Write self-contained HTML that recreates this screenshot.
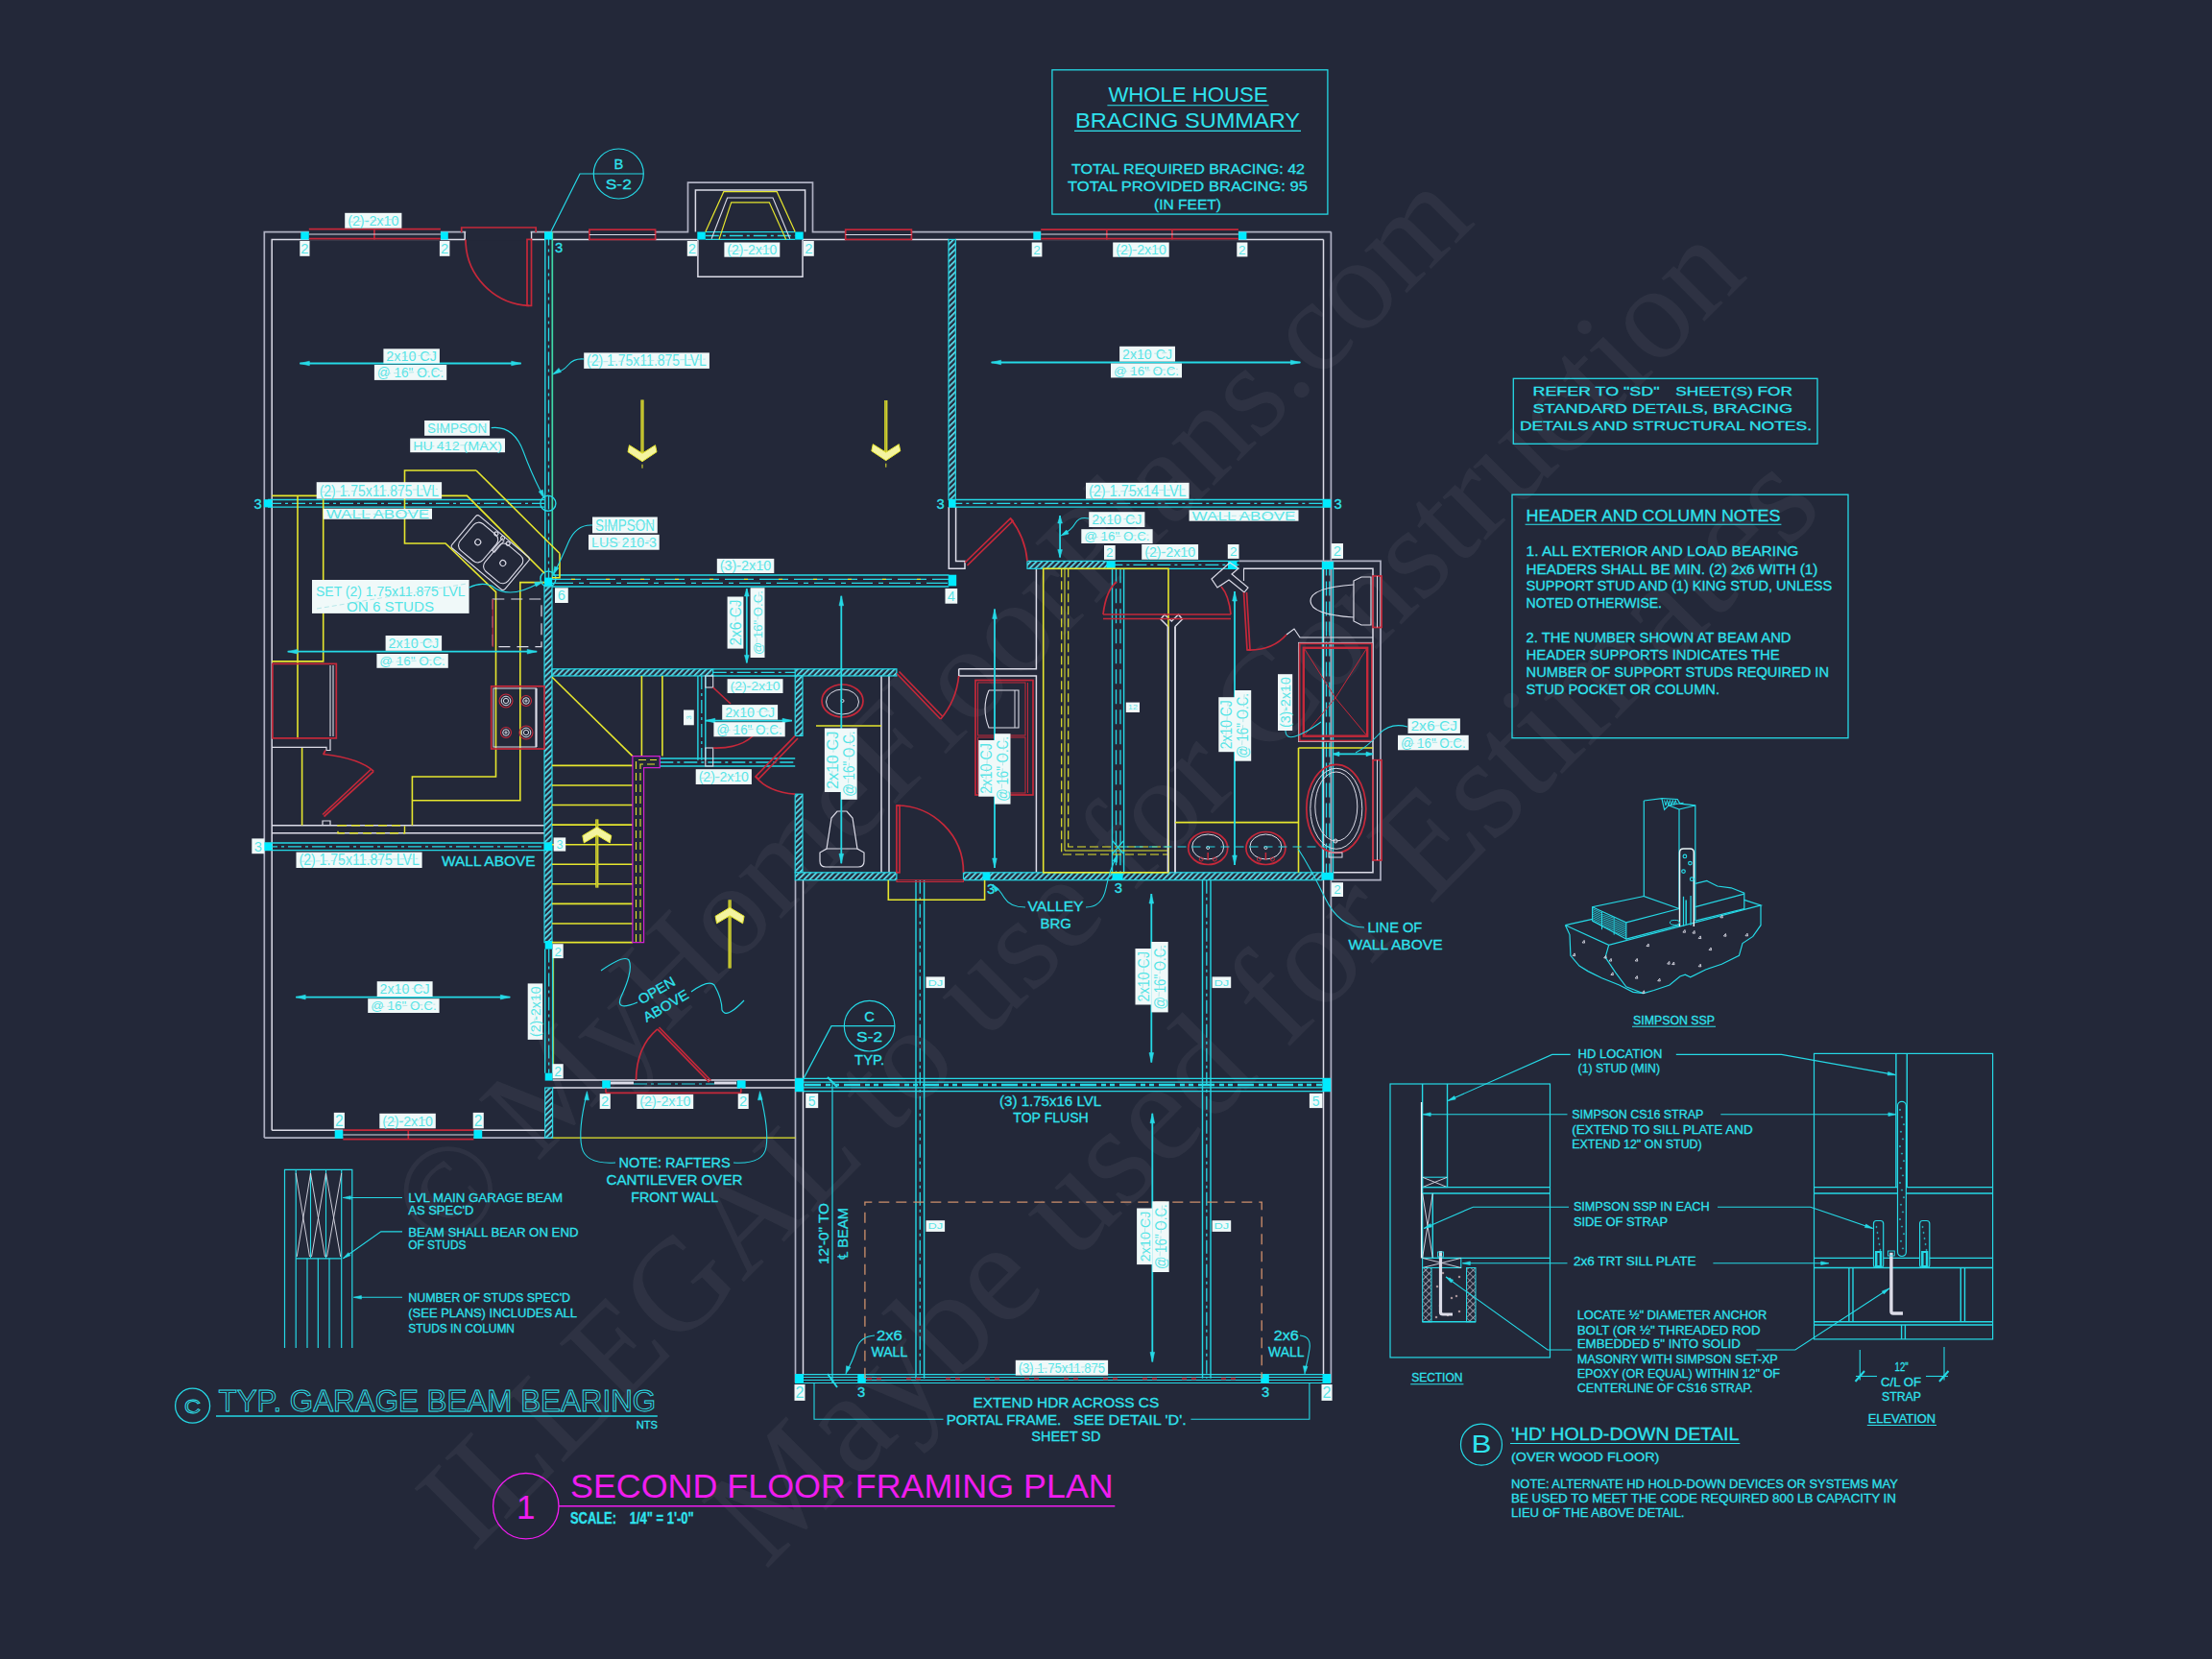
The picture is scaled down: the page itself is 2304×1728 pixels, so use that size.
<!DOCTYPE html>
<html><head><meta charset="utf-8"><title>Second Floor Framing Plan</title>
<style>
html,body{margin:0;padding:0;background:#232839;}
svg{display:block;}
text{font-family:"Liberation Sans",sans-serif;}
.wm text{font-family:"Liberation Serif",serif;fill:#ffffff;fill-opacity:0.052;}
</style></head>
<body>
<svg width="2304" height="1728" viewBox="0 0 2304 1728">
<defs>
<pattern id="hat" width="4.2" height="4.2" patternUnits="userSpaceOnUse" patternTransform="rotate(-45)"><rect width="4.2" height="4.2" fill="#232839"/><line x1="0" y1="1" x2="4.2" y2="1" stroke="#58d6e6" stroke-width="1.9"/></pattern>
<pattern id="xhat" width="5" height="5" patternUnits="userSpaceOnUse" patternTransform="rotate(45)"><path d="M0 0H5M0 0V5" stroke="#dcdce8" stroke-width="1.2" fill="none"/></pattern>
</defs>
<rect width="2304" height="1728" fill="#232839"/>
<g class="wm">
<text x="0" y="0" font-size="136.6" transform="translate(461.7 1308.8) rotate(-45)">© MyHomeFloorPlans.com</text>
<text x="0" y="0" font-size="138" transform="translate(492 1618) rotate(-45)">ILLEGAL to use for Construction</text>
<text x="0" y="0" font-size="150" transform="translate(797 1636) rotate(-45)">Maybe used for Estimates</text>
</g>
<polyline points="275.3,1185.1 275.3,241.6 716.5,241.6 716.5,190.2 846.5,190.2 846.5,241.6 1386.4,241.6" fill="none" stroke="#aeb0c2" stroke-width="1.7"/>
<polyline points="283.2,1177.2 283.2,249.4 484.2,249.4 484.2,241.6" fill="none" stroke="#dcdce8" stroke-width="1.5"/>
<polyline points="553.5,241.6 553.5,249.4 567,249.4" fill="none" stroke="#dcdce8" stroke-width="1.5"/>
<line x1="575" y1="249.4" x2="726.9" y2="249.4" stroke="#dcdce8" stroke-width="1.5"/>
<polyline points="724.4,241.6 724.4,198.1 838.6,198.1 838.6,241.6" fill="none" stroke="#dcdce8" stroke-width="1.5"/>
<line x1="836" y1="249.4" x2="988" y2="249.4" stroke="#dcdce8" stroke-width="1.5"/>
<line x1="995.3" y1="249.4" x2="1378.5" y2="249.4" stroke="#dcdce8" stroke-width="1.5"/>
<polyline points="726.9,249.4 726.9,288.3 836,288.3 836,249.4" fill="none" stroke="#dcdce8" stroke-width="1.5"/>
<line x1="1386.4" y1="241.6" x2="1386.4" y2="1440.5" stroke="#aeb0c2" stroke-width="1.7"/>
<line x1="1378.5" y1="249.4" x2="1378.5" y2="1431.6" stroke="#dcdce8" stroke-width="1.5"/>
<polyline points="275.3,1185.1 575.6,1185.1" fill="none" stroke="#aeb0c2" stroke-width="1.7"/>
<polyline points="283.2,1177.2 567.7,1177.2" fill="none" stroke="#dcdce8" stroke-width="1.5"/>
<line x1="283.2" y1="859.7" x2="567" y2="859.7" stroke="#dcdce8" stroke-width="1.5"/>
<line x1="283.2" y1="867.7" x2="567" y2="867.7" stroke="#dcdce8" stroke-width="1.5"/>
<line x1="575.6" y1="1125" x2="828.8" y2="1125" stroke="#dcdce8" stroke-width="1.5"/>
<line x1="575.6" y1="1133" x2="828.8" y2="1133" stroke="#dcdce8" stroke-width="1.5"/>
<line x1="828.5" y1="916.7" x2="828.5" y2="1440.5" stroke="#aeb0c2" stroke-width="1.7"/>
<line x1="836.5" y1="916.7" x2="836.5" y2="1431.6" stroke="#dcdce8" stroke-width="1.5"/>
<polyline points="988.3,528.1 988.3,592.3 1005,592.3 1005,584.4 995.6,584.4 995.6,528.1" fill="none" stroke="#dcdce8" stroke-width="1.5"/>
<polyline points="1290.5,584.4 1438,584.4 1438,916.7 1386.4,916.7" fill="none" stroke="#aeb0c2" stroke-width="1.7"/>
<polyline points="1295,592.3 1430,592.3 1430,908.8 1388,908.8" fill="none" stroke="#dcdce8" stroke-width="1.5"/>
<polyline points="998.7,696.8 1079.4,696.8 1079.4,592.3" fill="none" stroke="#dcdce8" stroke-width="1.5"/>
<polyline points="998.7,696.8 998.7,704 1079.4,704 1079.4,908.8" fill="none" stroke="#dcdce8" stroke-width="1.5"/>
<line x1="918" y1="704" x2="918" y2="908.8" stroke="#dcdce8" stroke-width="1.5"/>
<line x1="926" y1="704" x2="926" y2="908.8" stroke="#dcdce8" stroke-width="1.5"/>
<line x1="1216.5" y1="652.5" x2="1216.5" y2="908.8" stroke="#dcdce8" stroke-width="1.5"/>
<line x1="1224" y1="652.5" x2="1224" y2="908.8" stroke="#dcdce8" stroke-width="1.5"/>
<polyline points="1216.5,652.5 1209,645 1213,640 1220.3,647 1227.5,640 1231.5,645 1224,652.5" fill="none" stroke="#dcdce8" stroke-width="1.5"/>
<rect x="988" y="249.4" width="7.3" height="271.2" fill="url(#hat)" stroke="#25d9e6" stroke-width="1.2"/>
<rect x="567" y="609.7" width="8" height="371.9" fill="url(#hat)" stroke="#25d9e6" stroke-width="1.2"/>
<rect x="567.7" y="1133" width="7.9" height="52.1" fill="url(#hat)" stroke="#25d9e6" stroke-width="1.2"/>
<rect x="575" y="696.8" width="167.7" height="7.2" fill="url(#hat)" stroke="#25d9e6" stroke-width="1.2"/>
<rect x="828.2" y="696.8" width="105.7" height="7.2" fill="url(#hat)" stroke="#25d9e6" stroke-width="1.2"/>
<rect x="828.2" y="704" width="7.8" height="62.4" fill="url(#hat)" stroke="#25d9e6" stroke-width="1.2"/>
<rect x="828.2" y="827.2" width="7.8" height="81.6" fill="url(#hat)" stroke="#25d9e6" stroke-width="1.2"/>
<rect x="828.2" y="908.8" width="105.7" height="7.9" fill="url(#hat)" stroke="#25d9e6" stroke-width="1.2"/>
<rect x="1003.5" y="908.8" width="373.5" height="7.9" fill="url(#hat)" stroke="#25d9e6" stroke-width="1.2"/>
<rect x="1070" y="584.4" width="85.4" height="7.9" fill="url(#hat)" stroke="#25d9e6" stroke-width="1.2"/>
<line x1="279" y1="520.5" x2="567" y2="520.5" stroke="#25d9e6" stroke-width="1.3"/>
<line x1="279" y1="528.1" x2="567" y2="528.1" stroke="#25d9e6" stroke-width="1.3"/>
<line x1="279" y1="524.3" x2="567" y2="524.3" stroke="#25d9e6" stroke-width="1.3" stroke-dasharray="14 4 3 4"/>
<rect x="275" y="520.2" width="8.4" height="8.2" fill="#00eaff"/>
<line x1="567.8" y1="241.6" x2="567.8" y2="603" stroke="#25d9e6" stroke-width="1.4"/>
<line x1="575.3" y1="241.6" x2="575.3" y2="603" stroke="#3fd8a8" stroke-width="1.7"/>
<line x1="571.5" y1="241.6" x2="571.5" y2="603" stroke="#25d9e6" stroke-width="1.3" stroke-dasharray="14 4 3 4"/>
<rect x="567" y="241.5" width="8" height="8.1" fill="#00eaff"/>
<circle cx="570.9" cy="524.3" r="8" fill="none" stroke="#25d9e6" stroke-width="1.4"/>
<circle cx="570.9" cy="603" r="8" fill="none" stroke="#25d9e6" stroke-width="1.4"/>
<line x1="575" y1="598.9" x2="988.3" y2="598.9" stroke="#25d9e6" stroke-width="1.5"/>
<line x1="575" y1="611" x2="988.3" y2="611" stroke="#25d9e6" stroke-width="1.5"/>
<line x1="575" y1="603.4" x2="988.3" y2="603.4" stroke="#25d9e6" stroke-width="1.4" stroke-dasharray="30 6"/>
<line x1="575" y1="603.4" x2="988.3" y2="603.4" stroke="#e6e62e" stroke-width="1.2" stroke-dasharray="4 32" stroke-dashoffset="-20"/>
<line x1="575" y1="607.4" x2="988.3" y2="607.4" stroke="#25d9e6" stroke-width="1.4" stroke-dasharray="22 6 5 6"/>
<rect x="567" y="601.6" width="8.2" height="8.3" fill="#00eaff"/>
<rect x="987.7" y="598.7" width="8.5" height="11.7" fill="#00eaff"/>
<line x1="988.3" y1="520.5" x2="1385.8" y2="520.5" stroke="#25d9e6" stroke-width="1.3"/>
<line x1="988.3" y1="528.1" x2="1385.8" y2="528.1" stroke="#25d9e6" stroke-width="1.3"/>
<line x1="988.3" y1="524.3" x2="1385.8" y2="524.3" stroke="#25d9e6" stroke-width="1.3" stroke-dasharray="14 4 3 4"/>
<rect x="988" y="520.2" width="7.6" height="8.2" fill="#00eaff"/>
<rect x="1377.8" y="520.2" width="8.6" height="8.2" fill="#00eaff"/>
<line x1="275" y1="878" x2="575" y2="878" stroke="#25d9e6" stroke-width="1.3"/>
<line x1="275" y1="885.7" x2="575" y2="885.7" stroke="#25d9e6" stroke-width="1.3"/>
<line x1="275" y1="881.9" x2="575" y2="881.9" stroke="#25d9e6" stroke-width="1.3" stroke-dasharray="14 4 3 4"/>
<rect x="275" y="877.8" width="8.4" height="8.2" fill="#00eaff"/>
<rect x="567" y="877.8" width="8.2" height="8.2" fill="#00eaff"/>
<line x1="742.7" y1="696.8" x2="828.2" y2="696.8" stroke="#25d9e6" stroke-width="1.3"/>
<line x1="742.7" y1="704" x2="828.2" y2="704" stroke="#25d9e6" stroke-width="1.3"/>
<line x1="742.7" y1="700.4" x2="828.2" y2="700.4" stroke="#25d9e6" stroke-width="1.3" stroke-dasharray="14 4 3 4"/>
<line x1="726.9" y1="704" x2="726.9" y2="791.7" stroke="#25d9e6" stroke-width="1.4"/>
<line x1="734.8" y1="704" x2="734.8" y2="791.7" stroke="#25d9e6" stroke-width="1.4"/>
<line x1="730.8" y1="704" x2="730.8" y2="791.7" stroke="#25d9e6" stroke-width="1.3" stroke-dasharray="14 4 3 4"/>
<line x1="687.3" y1="790" x2="828.2" y2="790" stroke="#25d9e6" stroke-width="1.3"/>
<line x1="687.3" y1="798" x2="828.2" y2="798" stroke="#25d9e6" stroke-width="1.3"/>
<line x1="687.3" y1="794" x2="828.2" y2="794" stroke="#25d9e6" stroke-width="1.3" stroke-dasharray="14 4 3 4"/>
<line x1="1155.4" y1="584.4" x2="1290.5" y2="584.4" stroke="#25d9e6" stroke-width="1.3"/>
<line x1="1155.4" y1="592.3" x2="1290.5" y2="592.3" stroke="#25d9e6" stroke-width="1.3"/>
<line x1="1155.4" y1="588.3" x2="1290.5" y2="588.3" stroke="#25d9e6" stroke-width="1.3" stroke-dasharray="14 4 3 4"/>
<line x1="1158.5" y1="592.3" x2="1158.5" y2="908.8" stroke="#25d9e6" stroke-width="1.4"/>
<line x1="1170.6" y1="592.3" x2="1170.6" y2="908.8" stroke="#25d9e6" stroke-width="1.4"/>
<line x1="1162.5" y1="592.3" x2="1162.5" y2="908.8" stroke="#25d9e6" stroke-width="1.3" stroke-dasharray="15 6"/>
<line x1="1167" y1="592.3" x2="1167" y2="908.8" stroke="#25d9e6" stroke-width="1.3" stroke-dasharray="15 6"/>
<line x1="1377.5" y1="584.4" x2="1377.5" y2="916.7" stroke="#25d9e6" stroke-width="1.4"/>
<line x1="1388.5" y1="584.4" x2="1388.5" y2="916.7" stroke="#25d9e6" stroke-width="1.4"/>
<line x1="1381.5" y1="584.4" x2="1381.5" y2="916.7" stroke="#25d9e6" stroke-width="1.3" stroke-dasharray="15 6"/>
<line x1="1384.9" y1="584.4" x2="1384.9" y2="916.7" stroke="#25d9e6" stroke-width="1.3" stroke-dasharray="15 6"/>
<rect x="1152.5" y="585" width="9.2" height="8" fill="#00eaff"/>
<rect x="1279" y="585" width="9.5" height="8" fill="#00eaff"/>
<rect x="1377" y="585" width="11" height="8" fill="#00eaff"/>
<rect x="1023.5" y="908.8" width="8" height="7.9" fill="#00eaff"/>
<rect x="1158.5" y="908.8" width="11.1" height="7.9" fill="#00eaff"/>
<rect x="1377" y="908.8" width="11" height="7.9" fill="#00eaff"/>
<line x1="954" y1="916.7" x2="954" y2="1435.8" stroke="#25d9e6" stroke-width="1.4"/>
<line x1="962.6" y1="916.7" x2="962.6" y2="1435.8" stroke="#25d9e6" stroke-width="1.4"/>
<line x1="958.3" y1="916.7" x2="958.3" y2="1435.8" stroke="#25d9e6" stroke-width="1.3" stroke-dasharray="14 4 3 4"/>
<line x1="1252.5" y1="916.7" x2="1252.5" y2="1435.8" stroke="#25d9e6" stroke-width="1.4"/>
<line x1="1261" y1="916.7" x2="1261" y2="1435.8" stroke="#25d9e6" stroke-width="1.4"/>
<line x1="1256.8" y1="916.7" x2="1256.8" y2="1435.8" stroke="#25d9e6" stroke-width="1.3" stroke-dasharray="14 4 3 4"/>
<line x1="828" y1="1123.4" x2="1386" y2="1123.4" stroke="#25d9e6" stroke-width="1.3"/>
<line x1="828" y1="1127.2" x2="1386" y2="1127.2" stroke="#25d9e6" stroke-width="1.3"/>
<line x1="828" y1="1132.9" x2="1386" y2="1132.9" stroke="#25d9e6" stroke-width="1.3"/>
<line x1="828" y1="1136.7" x2="1386" y2="1136.7" stroke="#25d9e6" stroke-width="1.3"/>
<line x1="838" y1="1130" x2="1377" y2="1130" stroke="#25d9e6" stroke-width="2.6" stroke-dasharray="17 5 5 4 5 5"/>
<rect x="828" y="1123.2" width="9" height="13.8" fill="#00eaff"/>
<rect x="1377.5" y="1123.2" width="8.7" height="13.8" fill="#00eaff"/>
<line x1="828" y1="1431.6" x2="1386" y2="1431.6" stroke="#25d9e6" stroke-width="1.1"/>
<line x1="828" y1="1434.5" x2="1386" y2="1434.5" stroke="#25d9e6" stroke-width="1.1"/>
<line x1="828" y1="1437.5" x2="1386" y2="1437.5" stroke="#25d9e6" stroke-width="1.1"/>
<line x1="828" y1="1440.5" x2="1386" y2="1440.5" stroke="#25d9e6" stroke-width="1.1"/>
<line x1="903" y1="1436" x2="1313" y2="1436" stroke="#9a1c2c" stroke-width="2.6" stroke-dasharray="5 5 5 26"/>
<rect x="828" y="1431.4" width="9" height="9.3" fill="#00eaff"/>
<rect x="893.3" y="1431.4" width="8.5" height="9.3" fill="#00eaff"/>
<rect x="1313.2" y="1431.4" width="8.6" height="9.3" fill="#00eaff"/>
<rect x="1377.5" y="1431.4" width="8.7" height="9.3" fill="#00eaff"/>
<line x1="567.7" y1="988.6" x2="567.7" y2="1117.7" stroke="#25d9e6" stroke-width="1.4"/>
<line x1="575.6" y1="988.6" x2="575.6" y2="1117.7" stroke="#25d9e6" stroke-width="1.4"/>
<line x1="571.7" y1="988.6" x2="571.7" y2="1117.7" stroke="#25d9e6" stroke-width="1.3" stroke-dasharray="14 4 3 4"/>
<line x1="576.6" y1="988.6" x2="576.6" y2="1117.7" stroke="#9fd85a" stroke-width="1.0"/>
<rect x="567.7" y="980" width="7.9" height="8.6" fill="#00eaff"/>
<rect x="567.7" y="1117.7" width="7.9" height="7.9" fill="#00eaff"/>
<rect x="321.8" y="240" width="137.1" height="10.6" fill="#232839"/>
<rect x="613.9" y="240" width="68.7" height="10.6" fill="#232839"/>
<rect x="880.7" y="240" width="68.7" height="10.6" fill="#232839"/>
<rect x="1084.2" y="240" width="205.7" height="10.6" fill="#232839"/>
<rect x="357.3" y="1176" width="136.1" height="10.4" fill="#232839"/>
<rect x="313.3" y="241.5" width="8.5" height="8.1" fill="#00eaff"/>
<rect x="458.9" y="241.5" width="7.9" height="8.1" fill="#00eaff"/>
<line x1="321.8" y1="238.6" x2="458.9" y2="238.6" stroke="#c6283a" stroke-width="1.7"/>
<line x1="321.8" y1="248.7" x2="458.9" y2="248.7" stroke="#c6283a" stroke-width="1.7"/>
<line x1="389.9" y1="238.6" x2="389.9" y2="249.6" stroke="#c6283a" stroke-width="1.7"/>
<line x1="321.8" y1="244" x2="458.9" y2="244" stroke="#dcdce8" stroke-width="1"/>
<rect x="485.2" y="240" width="67.4" height="10.6" fill="#232839"/>
<polyline points="480.7,242 480.7,237 558.2,237 558.2,242" fill="none" stroke="#c6283a" stroke-width="1.7"/>
<rect x="549" y="249.4" width="4.5" height="69" fill="none" stroke="#c6283a" stroke-width="1.7"/>
<path d="M551 318.4 A69 69 0 0 1 485 249.4" fill="none" stroke="#c6283a" stroke-width="1.7"/>
<rect x="613.9" y="239.2" width="68.7" height="10.2" fill="none" stroke="#c6283a" stroke-width="1.7"/>
<line x1="613.9" y1="244.5" x2="682.6" y2="244.5" stroke="#dcdce8" stroke-width="1"/>
<rect x="880.7" y="239.2" width="68.7" height="10.2" fill="none" stroke="#c6283a" stroke-width="1.7"/>
<line x1="880.7" y1="244.5" x2="949.4" y2="244.5" stroke="#dcdce8" stroke-width="1"/>
<rect x="726.3" y="241.5" width="8.5" height="8.1" fill="#00eaff"/>
<rect x="828.2" y="241.5" width="8.5" height="8.1" fill="#00eaff"/>
<line x1="734.8" y1="241.6" x2="828.2" y2="241.6" stroke="#25d9e6" stroke-width="1.3"/>
<line x1="734.8" y1="249.4" x2="828.2" y2="249.4" stroke="#25d9e6" stroke-width="1.3"/>
<line x1="734.8" y1="245.5" x2="828.2" y2="245.5" stroke="#25d9e6" stroke-width="1.3" stroke-dasharray="14 4 3 4"/>
<polyline points="734.8,241.5 753.8,199.7 809.2,199.7 828.2,241.5" fill="none" stroke="#e6e62e" stroke-width="1.2"/>
<polyline points="749,249.4 761.7,210.8 801.3,210.8 818.7,249.4" fill="none" stroke="#e6e62e" stroke-width="1.2"/>
<polyline points="741.1,248.7 757.6,206 805,206 822.8,248.7" fill="none" stroke="#dcdce8" stroke-width="1.1"/>
<rect x="1076.3" y="241.5" width="7.9" height="8.1" fill="#00eaff"/>
<rect x="1289.9" y="241.5" width="8.5" height="8.1" fill="#00eaff"/>
<line x1="1084.2" y1="239.2" x2="1289.9" y2="239.2" stroke="#c6283a" stroke-width="1.7"/>
<line x1="1084.2" y1="248.7" x2="1289.9" y2="248.7" stroke="#c6283a" stroke-width="1.7"/>
<line x1="1152.8" y1="239.2" x2="1152.8" y2="249.6" stroke="#c6283a" stroke-width="1.7"/>
<line x1="1220.9" y1="239.2" x2="1220.9" y2="249.6" stroke="#c6283a" stroke-width="1.7"/>
<line x1="1084.2" y1="244" x2="1289.9" y2="244" stroke="#dcdce8" stroke-width="1"/>
<rect x="348.7" y="1177.2" width="8.6" height="8.6" fill="#00eaff"/>
<rect x="493.4" y="1177.2" width="8.8" height="8.6" fill="#00eaff"/>
<line x1="357.3" y1="1177.2" x2="493.4" y2="1177.2" stroke="#c6283a" stroke-width="1.7"/>
<line x1="357.3" y1="1186.7" x2="493.4" y2="1186.7" stroke="#c6283a" stroke-width="1.7"/>
<line x1="425.3" y1="1177.2" x2="425.3" y2="1186.7" stroke="#c6283a" stroke-width="1.7"/>
<line x1="357.3" y1="1182" x2="493.4" y2="1182" stroke="#dcdce8" stroke-width="1"/>
<rect x="627.2" y="1125.4" width="8.6" height="8.1" fill="#00eaff"/>
<rect x="767.7" y="1125.4" width="8.9" height="8.1" fill="#00eaff"/>
<line x1="631" y1="1138.3" x2="771.8" y2="1138.3" stroke="#c6283a" stroke-width="1.7"/>
<line x1="631" y1="1133.5" x2="631" y2="1138.3" stroke="#c6283a" stroke-width="1.7"/>
<line x1="771.8" y1="1133.5" x2="771.8" y2="1138.3" stroke="#c6283a" stroke-width="1.7"/>
<line x1="636" y1="1128" x2="660" y2="1128" stroke="#dcdce8" stroke-width="3"/>
<line x1="744" y1="1128" x2="767" y2="1128" stroke="#dcdce8" stroke-width="3"/>
<line x1="660" y1="1129" x2="744" y2="1129" stroke="#25d9e6" stroke-width="1.2" stroke-dasharray="14 4 3 4"/>
<polyline points="684.8,1071.8 738.6,1127.2" fill="none" stroke="#c6283a" stroke-width="1.7"/>
<line x1="686.5" y1="1070" x2="740.5" y2="1125.5" stroke="#c6283a" stroke-width="1.7"/>
<path d="M662.5 1125 Q663 1090 684.8 1071.8" fill="none" stroke="#c6283a" stroke-width="1.7"/>
<line x1="575.6" y1="1185.1" x2="828.8" y2="1185.1" stroke="#e6e62e" stroke-width="1.2"/>
<polyline points="283.2,516.4 486.4,516.4 567,597" fill="none" stroke="#e6e62e" stroke-width="1.6"/>
<polyline points="583,576.5 583,601.8 575,601.8" fill="none" stroke="#e6e62e" stroke-width="1.6"/>
<polyline points="496,490 421.5,490 421.5,566 464,566 516.5,616.7 516.5,809 429.4,809 429.4,859.7" fill="none" stroke="#e6e62e" stroke-width="1.6"/>
<polyline points="496,490 583,576.5" fill="none" stroke="#e6e62e" stroke-width="1.6"/>
<line x1="310" y1="516.4" x2="310" y2="769.6" stroke="#e6e62e" stroke-width="1.6"/>
<polyline points="336.7,516.4 336.7,688.9 283.2,688.9" fill="none" stroke="#e6e62e" stroke-width="1.6"/>
<line x1="314.6" y1="779" x2="314.6" y2="859.7" stroke="#e6e62e" stroke-width="1.6"/>
<polyline points="567,606.6 541.8,606.6 541.8,833.8 429.4,833.8" fill="none" stroke="#e6e62e" stroke-width="1.6"/>
<rect x="352" y="859.7" width="69.5" height="8" fill="none" stroke="#e6e62e" stroke-width="1.4" stroke-dasharray="9 5"/>
<g transform="rotate(40 510 575)" fill="none" stroke="#dcdce8" stroke-width="1.1"><rect x="475" y="553" width="72" height="44" rx="3"/><rect x="479" y="557" width="31" height="36" rx="7"/><rect x="513" y="557" width="31" height="36" rx="7"/><circle cx="494" cy="575" r="3"/><circle cx="528" cy="575" r="3"/><circle cx="503" cy="556" r="2"/><circle cx="511" cy="555" r="2"/><circle cx="519" cy="556" r="2"/><path d="M511 555 L511 572 L514 572 L514 556"/></g>
<rect x="283.9" y="691.4" width="66.4" height="77.5" fill="none" stroke="#c6283a" stroke-width="1.7"/>
<line x1="344" y1="693" x2="344" y2="767" stroke="#dcdce8" stroke-width="1.1"/>
<line x1="347" y1="693" x2="347" y2="767" stroke="#dcdce8" stroke-width="1.1"/>
<polyline points="283.2,778.4 340,778.4 340,781.5 344,781.5 344,770" fill="none" stroke="#dcdce8" stroke-width="1.2"/>
<polyline points="336,860 336,855 344,855 344,859.7" fill="none" stroke="#dcdce8" stroke-width="1.2"/>
<polyline points="336.7,786 339,781.5" fill="none" stroke="#c6283a" stroke-width="1.7"/>
<path d="M336.7 785.5 Q375 790 389.2 803.4" fill="none" stroke="#c6283a" stroke-width="1.7"/>
<line x1="389.2" y1="803.4" x2="337.5" y2="850.5" stroke="#c6283a" stroke-width="1.7"/>
<line x1="386.2" y1="801.5" x2="336" y2="848.5" stroke="#c6283a" stroke-width="1.7"/>
<rect x="513.3" y="624" width="50.7" height="49.7" fill="none" stroke="#dcdce8" stroke-width="1.2" stroke-dasharray="12 7"/>
<line x1="513.3" y1="624" x2="513.3" y2="673.7" stroke="#c6283a" stroke-width="1.2"/>
<rect x="511.7" y="714.8" width="55.3" height="65.2" fill="none" stroke="#c6283a" stroke-width="1.7"/>
<rect x="514" y="717" width="44.5" height="61" fill="none" stroke="#dcdce8" stroke-width="1.0"/>
<line x1="558.5" y1="717" x2="558.5" y2="778" stroke="#dcdce8" stroke-width="2.2"/>
<circle cx="527" cy="730" r="7" fill="none" stroke="#c6283a" stroke-width="1.1"/>
<circle cx="527" cy="730" r="4.8" fill="none" stroke="#dcdce8" stroke-width="1.0"/>
<circle cx="527" cy="730" r="2.6" fill="none" stroke="#dcdce8" stroke-width="1.0"/>
<circle cx="548" cy="730" r="5.5" fill="none" stroke="#c6283a" stroke-width="1.1"/>
<circle cx="548" cy="730" r="3.3" fill="none" stroke="#dcdce8" stroke-width="1.0"/>
<circle cx="548" cy="730" r="1.1" fill="none" stroke="#dcdce8" stroke-width="1.0"/>
<circle cx="527" cy="763" r="5.5" fill="none" stroke="#c6283a" stroke-width="1.1"/>
<circle cx="527" cy="763" r="3.3" fill="none" stroke="#dcdce8" stroke-width="1.0"/>
<circle cx="527" cy="763" r="1.1" fill="none" stroke="#dcdce8" stroke-width="1.0"/>
<circle cx="548" cy="763" r="7" fill="none" stroke="#c6283a" stroke-width="1.1"/>
<circle cx="548" cy="763" r="4.8" fill="none" stroke="#dcdce8" stroke-width="1.0"/>
<circle cx="548" cy="763" r="2.6" fill="none" stroke="#dcdce8" stroke-width="1.0"/>
<line x1="575" y1="797.4" x2="658.9" y2="797.4" stroke="#e6e62e" stroke-width="1.6"/>
<line x1="575" y1="818" x2="658.9" y2="818" stroke="#e6e62e" stroke-width="1.6"/>
<line x1="575" y1="838.5" x2="658.9" y2="838.5" stroke="#e6e62e" stroke-width="1.6"/>
<line x1="575" y1="859.1" x2="658.9" y2="859.1" stroke="#e6e62e" stroke-width="1.6"/>
<line x1="575" y1="879.7" x2="658.9" y2="879.7" stroke="#e6e62e" stroke-width="1.6"/>
<line x1="575" y1="900.3" x2="658.9" y2="900.3" stroke="#e6e62e" stroke-width="1.6"/>
<line x1="575" y1="920.8" x2="658.9" y2="920.8" stroke="#e6e62e" stroke-width="1.6"/>
<line x1="575" y1="941.4" x2="658.9" y2="941.4" stroke="#e6e62e" stroke-width="1.6"/>
<line x1="575" y1="962" x2="658.9" y2="962" stroke="#e6e62e" stroke-width="1.6"/>
<line x1="575" y1="981.6" x2="658.9" y2="981.6" stroke="#e6e62e" stroke-width="1.6"/>
<polyline points="575,705.3 658.9,787.6" fill="none" stroke="#e6e62e" stroke-width="1.6"/>
<line x1="668.4" y1="704" x2="668.4" y2="787.6" stroke="#e6e62e" stroke-width="1.6"/>
<line x1="689.9" y1="704" x2="689.9" y2="787.6" stroke="#e6e62e" stroke-width="1.6"/>
<polygon points="658.9,787.6 687.3,787.6 687.3,799.6 670.6,799.6 670.6,981.6 658.9,981.6" fill="none" stroke="#d020d0" stroke-width="1.2"/>
<polyline points="662.5,981 662.5,791.5 684,791.5" fill="none" stroke="#e6e62e" stroke-width="1.1" stroke-dasharray="8 4"/>
<polyline points="667,981 667,796 684,796" fill="none" stroke="#e6e62e" stroke-width="1.1" stroke-dasharray="8 4"/>
<line x1="621.8" y1="853.4" x2="621.8" y2="924.6" stroke="#e6e62e" stroke-width="3.2"/>
<line x1="621.8" y1="853.4" x2="621.8" y2="924.6" stroke="#8a8a30" stroke-width="0.8"/>
<polygon points="621.8,861.4 636.8,870.4 635.3,877.9 621.8,869.9 608.3,877.9 606.8,870.4" fill="#f4f4a0" stroke="#e6e62e" stroke-width="1.0"/>
<line x1="760.1" y1="937.3" x2="760.1" y2="1008.5" stroke="#e6e62e" stroke-width="3.2"/>
<line x1="760.1" y1="937.3" x2="760.1" y2="1008.5" stroke="#8a8a30" stroke-width="0.8"/>
<polygon points="760.1,945.3 775.1,954.3 773.6,961.8 760.1,953.8 746.6,961.8 745.1,954.3" fill="#f4f4a0" stroke="#e6e62e" stroke-width="1.0"/>
<line x1="669" y1="416.5" x2="669" y2="473.7" stroke="#e6e62e" stroke-width="3.2"/>
<line x1="669" y1="416.5" x2="669" y2="473.7" stroke="#8a8a30" stroke-width="0.8"/>
<polygon points="669,480.7 684,470.7 682.5,463.7 669,472.2 655.5,463.7 654,470.7" fill="#f4f4a0" stroke="#e6e62e" stroke-width="1.0"/>
<line x1="669" y1="483.7" x2="669" y2="487.7" stroke="#e6e62e" stroke-width="1"/>
<line x1="922.8" y1="417" x2="922.8" y2="472.7" stroke="#e6e62e" stroke-width="3.2"/>
<line x1="922.8" y1="417" x2="922.8" y2="472.7" stroke="#8a8a30" stroke-width="0.8"/>
<polygon points="922.8,479.7 937.8,469.7 936.3,462.7 922.8,471.2 909.3,462.7 907.8,469.7" fill="#f4f4a0" stroke="#e6e62e" stroke-width="1.0"/>
<line x1="922.8" y1="482.7" x2="922.8" y2="486.7" stroke="#e6e62e" stroke-width="1"/>
<rect x="734.8" y="704" width="7.9" height="12" fill="none" stroke="#dcdce8" stroke-width="1.1"/>
<rect x="734.8" y="779" width="7.9" height="19" fill="none" stroke="#dcdce8" stroke-width="1.1"/>
<path d="M742.7 716 L761 733" fill="none" stroke="#c6283a" stroke-width="1.7"/>
<path d="M742.7 779 Q770 780 785 766" fill="none" stroke="#c6283a" stroke-width="1.7"/>
<polyline points="828.2,766.4 787,809 790,811.5 831,769" fill="none" stroke="#c6283a" stroke-width="1.7"/>
<path d="M787 809 Q800 825 828.2 827.2" fill="none" stroke="#c6283a" stroke-width="1.7"/>
<ellipse cx="877.5" cy="730" rx="21.5" ry="17" fill="none" stroke="#c6283a" stroke-width="1.7"/>
<ellipse cx="877.5" cy="731" rx="17" ry="13" fill="none" stroke="#dcdce8" stroke-width="1.0"/>
<circle cx="877.5" cy="730" r="1.5" fill="none" stroke="#dcdce8" stroke-width="1"/>
<line x1="850" y1="756" x2="918" y2="756" stroke="#e6e62e" stroke-width="1.6"/>
<polyline points="854,897 854,888 861,884 866,852 872,845 882,845 888,852 893,884 900,888 900,897" fill="none" stroke="#dcdce8" stroke-width="1.2"/>
<path d="M854 897 Q854 903 860 903 L894 903 Q900 903 900 897" fill="none" stroke="#dcdce8" stroke-width="1.2"/>
<line x1="861" y1="884" x2="893" y2="884" stroke="#dcdce8" stroke-width="1"/>
<polyline points="1005,586 1052.5,540 1055,542.5 1007.5,589" fill="none" stroke="#c6283a" stroke-width="1.7"/>
<path d="M1052.5 540 Q1068 560 1070 584.4" fill="none" stroke="#c6283a" stroke-width="1.7"/>
<polyline points="933.9,701.5 979.7,749" fill="none" stroke="#c6283a" stroke-width="1.7"/>
<polyline points="936.5,699.5 982,746.5" fill="none" stroke="#c6283a" stroke-width="1.7"/>
<path d="M979.7 749 Q996 730 998.7 704" fill="none" stroke="#c6283a" stroke-width="1.7"/>
<rect x="933.9" y="839" width="3.1" height="69.8" fill="none" stroke="#c6283a" stroke-width="1.7"/>
<path d="M933.9 839 A69.6 69.6 0 0 1 1003.5 908.8" fill="none" stroke="#c6283a" stroke-width="1.7"/>
<rect x="933.9" y="916.7" width="69.6" height="1.8" fill="none" stroke="#c6283a" stroke-width="1"/>
<polyline points="925.3,916.7 925.3,937.3 1025.6,937.3 1025.6,916.7" fill="none" stroke="#e6e62e" stroke-width="1.6"/>
<rect x="1016" y="708.5" width="60" height="119.5" fill="none" stroke="#c6283a" stroke-width="1.7"/>
<rect x="1018.5" y="711" width="49.5" height="55" fill="none" stroke="#c6283a" stroke-width="1"/>
<rect x="1018.5" y="768" width="49.5" height="58" fill="none" stroke="#c6283a" stroke-width="1"/>
<line x1="1070.5" y1="711" x2="1070.5" y2="826" stroke="#c6283a" stroke-width="1"/>
<path d="M1030 719 L1061 719 L1061 758 L1030 758 Q1022 738 1030 719" fill="none" stroke="#dcdce8" stroke-width="1.1"/>
<line x1="1057" y1="719" x2="1057" y2="758" stroke="#dcdce8" stroke-width="1"/>
<rect x="1086.7" y="592.3" width="130.3" height="316.5" fill="none" stroke="#e6e62e" stroke-width="1.6"/>
<polyline points="1105.7,592.3 1105.7,890 1217,890" fill="none" stroke="#e6e62e" stroke-width="1.2" stroke-dasharray="9 4"/>
<polyline points="1112.7,592.3 1112.7,882 1217,882" fill="none" stroke="#e6e62e" stroke-width="1.2" stroke-dasharray="9 4"/>
<line x1="1109" y1="592.3" x2="1109" y2="886" stroke="#e6e62e" stroke-width="1.0"/>
<line x1="1109" y1="886" x2="1217" y2="886" stroke="#e6e62e" stroke-width="1.0"/>
<line x1="1216.5" y1="652.5" x2="1216.5" y2="908.8" stroke="#dcdce8" stroke-width="1.3"/>
<line x1="1224" y1="652.5" x2="1224" y2="908.8" stroke="#dcdce8" stroke-width="1.3"/>
<line x1="1149" y1="640" x2="1282" y2="640" stroke="#c6283a" stroke-width="1.7"/>
<line x1="1149" y1="644.5" x2="1282" y2="644.5" stroke="#c6283a" stroke-width="1.7"/>
<path d="M1149 640 Q1152 615 1163 606" fill="none" stroke="#c6283a" stroke-width="1.7"/>
<path d="M1282 640 Q1280 620 1272 611" fill="none" stroke="#c6283a" stroke-width="1.7"/>
<polygon points="1262,603 1281,586 1290,592 1283,598 1300,612 1296,617 1280,604 1268,612" fill="none" stroke="#dcdce8" stroke-width="1.2"/>
<polyline points="1340,661 1348,655 1354,664 1430,664" fill="none" stroke="#dcdce8" stroke-width="1.2"/>
<polyline points="1295.5,617 1299,677 1302,677 1298.5,617" fill="none" stroke="#c6283a" stroke-width="1.7"/>
<path d="M1299 677 Q1325 678 1340 661" fill="none" stroke="#c6283a" stroke-width="1.7"/>
<polygon points="1410,605 1418,601 1428,601 1428,651 1418,651 1410,647" fill="none" stroke="#dcdce8" stroke-width="1.2"/>
<path d="M1410 609 Q1365 612 1365 626 Q1365 640 1410 643" fill="none" stroke="#dcdce8" stroke-width="1.2"/>
<line x1="1295.5" y1="592.3" x2="1295.5" y2="605" stroke="#dcdce8" stroke-width="1.1"/>
<rect x="1430" y="600" width="9" height="53.5" fill="none" stroke="#c6283a" stroke-width="1.7"/>
<line x1="1434.5" y1="600" x2="1434.5" y2="653.5" stroke="#dcdce8" stroke-width="1"/>
<rect x="1430" y="791.7" width="9" height="104.3" fill="none" stroke="#c6283a" stroke-width="1.7"/>
<line x1="1434.5" y1="791.7" x2="1434.5" y2="896" stroke="#dcdce8" stroke-width="1"/>
<rect x="1353.5" y="670.2" width="75.5" height="101.5" fill="none" stroke="#c6283a" stroke-width="2"/>
<rect x="1357.5" y="674.5" width="67" height="92.5" fill="none" stroke="#c6283a" stroke-width="1.8"/>
<rect x="1358.5" y="675.5" width="65" height="90.5" fill="none" stroke="#c6283a" stroke-width="1"/>
<polyline points="1358.5,675.5 1391,727 1423.5,675.5" fill="none" stroke="#c6283a" stroke-width="1"/>
<polyline points="1358.5,766 1391,727 1423.5,766" fill="none" stroke="#c6283a" stroke-width="1"/>
<rect x="1352.5" y="669.2" width="77.5" height="103.5" fill="none" stroke="#dcdce8" stroke-width="0.6"/>
<line x1="1352.5" y1="779" x2="1430" y2="779" stroke="#e6e62e" stroke-width="1.6"/>
<line x1="1352.5" y1="779" x2="1352.5" y2="908.8" stroke="#e6e62e" stroke-width="1.6"/>
<line x1="1224" y1="856.6" x2="1352.5" y2="856.6" stroke="#e6e62e" stroke-width="1.6"/>
<ellipse cx="1391.8" cy="842.3" rx="31" ry="46" fill="none" stroke="#c6283a" stroke-width="1.7"/>
<ellipse cx="1391.8" cy="842.3" rx="27" ry="42" fill="none" stroke="#dcdce8" stroke-width="1.0"/>
<ellipse cx="1391.8" cy="840" rx="22" ry="36" fill="none" stroke="#dcdce8" stroke-width="1.0"/>
<circle cx="1391" cy="876" r="2" fill="none" stroke="#dcdce8" stroke-width="1"/>
<rect x="1384" y="888" width="14" height="5" fill="none" stroke="#dcdce8" stroke-width="1"/>
<ellipse cx="1258.2" cy="883.5" rx="20.5" ry="17" fill="none" stroke="#c6283a" stroke-width="1.7"/>
<ellipse cx="1258.2" cy="882" rx="16.5" ry="13" fill="none" stroke="#dcdce8" stroke-width="1.0"/>
<circle cx="1258.2" cy="883" r="1.5" fill="none" stroke="#dcdce8" stroke-width="1"/>
<circle cx="1251.2" cy="895" r="2" fill="none" stroke="#c6283a" stroke-width="1"/>
<circle cx="1265.2" cy="895" r="2" fill="none" stroke="#c6283a" stroke-width="1"/>
<line x1="1258.2" y1="888" x2="1258.2" y2="896" stroke="#c6283a" stroke-width="1.5"/>
<ellipse cx="1318.4" cy="883.5" rx="20.5" ry="17" fill="none" stroke="#c6283a" stroke-width="1.7"/>
<ellipse cx="1318.4" cy="882" rx="16.5" ry="13" fill="none" stroke="#dcdce8" stroke-width="1.0"/>
<circle cx="1318.4" cy="883" r="1.5" fill="none" stroke="#dcdce8" stroke-width="1"/>
<circle cx="1311.4" cy="895" r="2" fill="none" stroke="#c6283a" stroke-width="1"/>
<circle cx="1325.4" cy="895" r="2" fill="none" stroke="#c6283a" stroke-width="1"/>
<line x1="1318.4" y1="888" x2="1318.4" y2="896" stroke="#c6283a" stroke-width="1.5"/>
<line x1="1166.5" y1="882" x2="1388" y2="882" stroke="#25d9e6" stroke-width="1.2" stroke-dasharray="9 6"/>
<polyline points="1159,876 1170,889" fill="none" stroke="#25d9e6" stroke-width="1.2"/>
<polyline points="1170,876 1159,889" fill="none" stroke="#25d9e6" stroke-width="1.2"/>
<polyline points="900.9,1435.8 900.9,1252.2 1314.2,1252.2 1314.2,1435.8" fill="none" stroke="#d0906c" stroke-width="1.3" stroke-dasharray="11 7"/>
<rect x="359.2" y="221.8" width="59.2" height="15.9" fill="#f0f9f9"/>
<text x="388.8" y="235.1" font-size="14.9" fill="#3fe2e4" fill-opacity="0.88" text-anchor="middle" textLength="53.3" lengthAdjust="spacingAndGlyphs">(2)-2x10</text>
<line x1="363.4" y1="231.2" x2="414.2" y2="228.2" stroke="#9adfe2" stroke-width="0.7" stroke-dasharray="5 3"/>
<rect x="312.3" y="251" width="10.2" height="15.8" fill="#f0f9f9"/>
<text x="317.4" y="264.2" font-size="14.8" fill="#3fe2e4" fill-opacity="0.88" text-anchor="middle">2</text>
<rect x="457.9" y="251" width="10.5" height="15.8" fill="#f0f9f9"/>
<text x="463.1" y="264.2" font-size="14.8" fill="#3fe2e4" fill-opacity="0.88" text-anchor="middle">2</text>
<rect x="715.8" y="251" width="10.2" height="15.8" fill="#f0f9f9"/>
<text x="720.9" y="264.2" font-size="14.8" fill="#3fe2e4" fill-opacity="0.88" text-anchor="middle">2</text>
<rect x="837" y="251" width="10.8" height="15.8" fill="#f0f9f9"/>
<text x="842.4" y="264.2" font-size="14.8" fill="#3fe2e4" fill-opacity="0.88" text-anchor="middle">2</text>
<rect x="754.4" y="252.5" width="57.9" height="15.2" fill="#f0f9f9"/>
<text x="783.3" y="265.1" font-size="14" fill="#3fe2e4" fill-opacity="0.88" text-anchor="middle" textLength="52" lengthAdjust="spacingAndGlyphs">(2)-2x10</text>
<line x1="758.6" y1="261.6" x2="808.1" y2="258.6" stroke="#9adfe2" stroke-width="0.7" stroke-dasharray="5 3"/>
<rect x="1074.7" y="252.5" width="10.7" height="14.9" fill="#f0f9f9"/>
<text x="1080.1" y="264.8" font-size="13.5" fill="#3fe2e4" fill-opacity="0.88" text-anchor="middle">2</text>
<rect x="1288.3" y="252.5" width="11.1" height="14.9" fill="#f0f9f9"/>
<text x="1293.8" y="264.8" font-size="13.5" fill="#3fe2e4" fill-opacity="0.88" text-anchor="middle">2</text>
<rect x="1159.2" y="252.5" width="58.5" height="15.2" fill="#f0f9f9"/>
<text x="1188.5" y="265.1" font-size="14" fill="#3fe2e4" fill-opacity="0.88" text-anchor="middle" textLength="52.6" lengthAdjust="spacingAndGlyphs">(2)-2x10</text>
<line x1="1163.4" y1="261.6" x2="1213.5" y2="258.6" stroke="#9adfe2" stroke-width="0.7" stroke-dasharray="5 3"/>
<line x1="312.3" y1="378.5" x2="542.7" y2="378.5" stroke="#25d9e6" stroke-width="1.8"/>
<polygon points="312.3,378.5 322.3,376.2 322.3,380.8" fill="#25d9e6" stroke="#25d9e6" stroke-width="0.6"/>
<polygon points="542.7,378.5 532.7,380.8 532.7,376.2" fill="#25d9e6" stroke="#25d9e6" stroke-width="0.6"/>
<rect x="399.4" y="363.3" width="58.5" height="15.2" fill="#f0f9f9"/>
<text x="428.6" y="375.9" font-size="14" fill="#3fe2e4" fill-opacity="0.88" text-anchor="middle" textLength="52.6" lengthAdjust="spacingAndGlyphs">2x10 CJ</text>
<line x1="403.6" y1="372.4" x2="453.7" y2="369.4" stroke="#9adfe2" stroke-width="0.7" stroke-dasharray="5 3"/>
<rect x="389.9" y="380" width="75.3" height="15.9" fill="#f0f9f9"/>
<text x="427.5" y="393.3" font-size="14.9" fill="#3fe2e4" fill-opacity="0.88" text-anchor="middle" textLength="69.4" lengthAdjust="spacingAndGlyphs">@ 16" O.C.</text>
<line x1="394.1" y1="389.4" x2="461" y2="386.4" stroke="#9adfe2" stroke-width="0.7" stroke-dasharray="5 3"/>
<line x1="1032.6" y1="377.5" x2="1354.4" y2="377.5" stroke="#25d9e6" stroke-width="1.8"/>
<polygon points="1032.6,377.5 1042.6,375.2 1042.6,379.8" fill="#25d9e6" stroke="#25d9e6" stroke-width="0.6"/>
<polygon points="1354.4,377.5 1344.4,379.8 1344.4,375.2" fill="#25d9e6" stroke="#25d9e6" stroke-width="0.6"/>
<rect x="1166.1" y="360.8" width="57.9" height="15.8" fill="#f0f9f9"/>
<text x="1195" y="374" font-size="14.8" fill="#3fe2e4" fill-opacity="0.88" text-anchor="middle" textLength="52" lengthAdjust="spacingAndGlyphs">2x10 CJ</text>
<line x1="1170.3" y1="370.2" x2="1219.8" y2="367.2" stroke="#9adfe2" stroke-width="0.7" stroke-dasharray="5 3"/>
<rect x="1157" y="378.5" width="74" height="14.9" fill="#f0f9f9"/>
<text x="1194" y="390.8" font-size="13.5" fill="#3fe2e4" fill-opacity="0.88" text-anchor="middle" textLength="68.1" lengthAdjust="spacingAndGlyphs">@ 16" O.C.</text>
<line x1="1161.2" y1="387.4" x2="1226.8" y2="384.4" stroke="#9adfe2" stroke-width="0.7" stroke-dasharray="5 3"/>
<line x1="299.7" y1="678.7" x2="559.2" y2="678.7" stroke="#25d9e6" stroke-width="1.8"/>
<polygon points="299.7,678.7 309.7,676.4 309.7,681" fill="#25d9e6" stroke="#25d9e6" stroke-width="0.6"/>
<polygon points="559.2,678.7 549.2,681 549.2,676.4" fill="#25d9e6" stroke="#25d9e6" stroke-width="0.6"/>
<rect x="401.6" y="662" width="58.5" height="15.8" fill="#f0f9f9"/>
<text x="430.9" y="675.2" font-size="14.8" fill="#3fe2e4" fill-opacity="0.88" text-anchor="middle" textLength="52.6" lengthAdjust="spacingAndGlyphs">2x10 CJ</text>
<line x1="405.8" y1="671.4" x2="455.9" y2="668.4" stroke="#9adfe2" stroke-width="0.7" stroke-dasharray="5 3"/>
<rect x="392.4" y="681" width="74.4" height="14.8" fill="#f0f9f9"/>
<text x="429.6" y="693.2" font-size="13.4" fill="#3fe2e4" fill-opacity="0.88" text-anchor="middle" textLength="68.5" lengthAdjust="spacingAndGlyphs">@ 16" O.C.</text>
<line x1="396.6" y1="689.9" x2="462.6" y2="686.9" stroke="#9adfe2" stroke-width="0.7" stroke-dasharray="5 3"/>
<line x1="308.2" y1="1038.6" x2="531.3" y2="1038.6" stroke="#25d9e6" stroke-width="1.8"/>
<polygon points="308.2,1038.6 318.2,1036.3 318.2,1040.9" fill="#25d9e6" stroke="#25d9e6" stroke-width="0.6"/>
<polygon points="531.3,1038.6 521.3,1040.9 521.3,1036.3" fill="#25d9e6" stroke="#25d9e6" stroke-width="0.6"/>
<rect x="392.7" y="1022.2" width="57.9" height="15.8" fill="#f0f9f9"/>
<text x="421.6" y="1035.4" font-size="14.8" fill="#3fe2e4" fill-opacity="0.88" text-anchor="middle" textLength="52" lengthAdjust="spacingAndGlyphs">2x10 CJ</text>
<line x1="396.9" y1="1031.6" x2="446.4" y2="1028.6" stroke="#9adfe2" stroke-width="0.7" stroke-dasharray="5 3"/>
<rect x="383.2" y="1040.2" width="74.4" height="14.8" fill="#f0f9f9"/>
<text x="420.4" y="1052.4" font-size="13.4" fill="#3fe2e4" fill-opacity="0.88" text-anchor="middle" textLength="68.5" lengthAdjust="spacingAndGlyphs">@ 16" O.C.</text>
<line x1="387.4" y1="1049.1" x2="453.4" y2="1046.1" stroke="#9adfe2" stroke-width="0.7" stroke-dasharray="5 3"/>
<line x1="734.8" y1="750.6" x2="825" y2="750.6" stroke="#25d9e6" stroke-width="1.8"/>
<polygon points="734.8,750.6 744.8,748.3 744.8,752.9" fill="#25d9e6" stroke="#25d9e6" stroke-width="0.6"/>
<polygon points="825,750.6 815,752.9 815,748.3" fill="#25d9e6" stroke="#25d9e6" stroke-width="0.6"/>
<rect x="752.2" y="734.1" width="57.9" height="15.5" fill="#f0f9f9"/>
<text x="781.2" y="747" font-size="14.4" fill="#3fe2e4" fill-opacity="0.88" text-anchor="middle" textLength="52" lengthAdjust="spacingAndGlyphs">2x10 CJ</text>
<line x1="756.4" y1="743.4" x2="805.9" y2="740.4" stroke="#9adfe2" stroke-width="0.7" stroke-dasharray="5 3"/>
<rect x="743.4" y="752.2" width="74.3" height="15.1" fill="#f0f9f9"/>
<text x="780.5" y="764.7" font-size="13.8" fill="#3fe2e4" fill-opacity="0.88" text-anchor="middle" textLength="68.4" lengthAdjust="spacingAndGlyphs">@ 16" O.C.</text>
<line x1="747.6" y1="761.2" x2="813.5" y2="758.2" stroke="#9adfe2" stroke-width="0.7" stroke-dasharray="5 3"/>
<rect x="608.2" y="367.4" width="130.7" height="16.5" fill="#f0f9f9"/>
<text x="673.5" y="381.3" font-size="15.8" fill="#3fe2e4" fill-opacity="0.88" text-anchor="middle" textLength="124.8" lengthAdjust="spacingAndGlyphs">(2) 1.75x11.875 LVL</text>
<line x1="612.4" y1="377.1" x2="734.7" y2="374.1" stroke="#9adfe2" stroke-width="0.7" stroke-dasharray="5 3"/>
<path d="M608.2 374 Q598 373 592 380 T577 389" fill="none" stroke="#25d9e6" stroke-width="1.1"/>
<polygon points="575.5,390 582.1,383.5 584.4,387.5" fill="#25d9e6" stroke="#25d9e6" stroke-width="0.6"/>
<rect x="442.1" y="438" width="68" height="15.8" fill="#f0f9f9"/>
<text x="476.1" y="451.2" font-size="14.8" fill="#3fe2e4" fill-opacity="0.88" text-anchor="middle" textLength="62.1" lengthAdjust="spacingAndGlyphs">SIMPSON</text>
<line x1="446.3" y1="447.4" x2="505.9" y2="444.4" stroke="#9adfe2" stroke-width="0.7" stroke-dasharray="5 3"/>
<rect x="427.2" y="456.6" width="98.8" height="14.6" fill="#f0f9f9"/>
<text x="476.6" y="468.6" font-size="13.1" fill="#3fe2e4" fill-opacity="0.88" text-anchor="middle" textLength="92.9" lengthAdjust="spacingAndGlyphs">HU 412 (MAX)</text>
<line x1="431.4" y1="465.4" x2="521.8" y2="462.4" stroke="#9adfe2" stroke-width="0.7" stroke-dasharray="5 3"/>
<path d="M511.7 445.6 Q535 443 545 470 T566 517" fill="none" stroke="#25d9e6" stroke-width="1.1"/>
<polygon points="567,519.3 561.1,512.1 565.3,510.2" fill="#25d9e6" stroke="#25d9e6" stroke-width="0.6"/>
<rect x="329.7" y="502.2" width="130.4" height="17.4" fill="#f0f9f9"/>
<text x="394.9" y="516.6" font-size="16.1" fill="#3fe2e4" fill-opacity="0.88" text-anchor="middle" textLength="124.5" lengthAdjust="spacingAndGlyphs">(2) 1.75x11.875 LVL</text>
<line x1="333.9" y1="512.4" x2="455.9" y2="509.4" stroke="#9adfe2" stroke-width="0.7" stroke-dasharray="5 3"/>
<rect x="336.7" y="529.7" width="113.3" height="11.1" fill="#f0f9f9"/>
<text x="393.4" y="540" font-size="13.3" fill="#3fe2e4" fill-opacity="0.88" text-anchor="middle" textLength="107.4" lengthAdjust="spacingAndGlyphs">WALL ABOVE</text>
<line x1="340.9" y1="536.8" x2="445.8" y2="533.8" stroke="#9adfe2" stroke-width="0.7" stroke-dasharray="5 3"/>
<rect x="617" y="538.5" width="67.8" height="16.8" fill="#f0f9f9"/>
<text x="650.9" y="552.6" font-size="16.1" fill="#3fe2e4" fill-opacity="0.88" text-anchor="middle" textLength="61.9" lengthAdjust="spacingAndGlyphs">SIMPSON</text>
<line x1="621.2" y1="548.4" x2="680.6" y2="545.4" stroke="#9adfe2" stroke-width="0.7" stroke-dasharray="5 3"/>
<rect x="613" y="556.9" width="73.7" height="15.8" fill="#f0f9f9"/>
<text x="649.9" y="570.1" font-size="14.8" fill="#3fe2e4" fill-opacity="0.88" text-anchor="middle" textLength="67.8" lengthAdjust="spacingAndGlyphs">LUS 210-3</text>
<line x1="617.2" y1="566.3" x2="682.5" y2="563.3" stroke="#9adfe2" stroke-width="0.7" stroke-dasharray="5 3"/>
<path d="M617 547 Q600 546 592 565 T577 597" fill="none" stroke="#25d9e6" stroke-width="1.1"/>
<polygon points="576,599 577.7,589.9 581.9,591.8" fill="#25d9e6" stroke="#25d9e6" stroke-width="0.6"/>
<rect x="325" y="604" width="163.6" height="34.9" fill="#f0f9f9"/>
<text x="406.8" y="627.2" font-size="16.1" fill="#3fe2e4" fill-opacity="0.88" text-anchor="middle"></text>
<text x="329" y="621" font-size="14.7" fill="#3fe2e4" textLength="155.5" lengthAdjust="spacingAndGlyphs" fill-opacity="0.9">SET (2) 1.75x11.875 LVL</text>
<text x="361" y="636.5" font-size="14" fill="#3fe2e4" textLength="91" lengthAdjust="spacingAndGlyphs" fill-opacity="0.9">ON 6 STUDS</text>
<line x1="330" y1="634" x2="486" y2="608" stroke="#9adfe2" stroke-width="0.7" stroke-dasharray="5 3"/>
<path d="M488.6 612 Q500 606 512 610 Q530 625 560 608" fill="none" stroke="#25d9e6" stroke-width="1.1"/>
<polygon points="566,606 558.2,611 556.7,606.6" fill="#25d9e6" stroke="#25d9e6" stroke-width="0.6"/>
<rect x="746.8" y="581.9" width="59.5" height="15.1" fill="#f0f9f9"/>
<text x="776.5" y="594.4" font-size="13.8" fill="#3fe2e4" fill-opacity="0.88" text-anchor="middle" textLength="53.6" lengthAdjust="spacingAndGlyphs">(3)-2x10</text>
<line x1="751" y1="591" x2="802.1" y2="588" stroke="#9adfe2" stroke-width="0.7" stroke-dasharray="5 3"/>
<rect x="578" y="612.3" width="13.8" height="15.7" fill="#f0f9f9"/>
<text x="584.9" y="625.4" font-size="14.7" fill="#3fe2e4" fill-opacity="0.88" text-anchor="middle">6</text>
<rect x="984.5" y="613" width="12.7" height="15.7" fill="#f0f9f9"/>
<text x="990.9" y="626.1" font-size="14.7" fill="#3fe2e4" fill-opacity="0.88" text-anchor="middle">4</text>
<rect x="1131" y="502.8" width="107.6" height="16.8" fill="#f0f9f9"/>
<text x="1184.8" y="517" font-size="16.1" fill="#3fe2e4" fill-opacity="0.88" text-anchor="middle" textLength="101.7" lengthAdjust="spacingAndGlyphs">(2) 1.75x14 LVL</text>
<line x1="1135.2" y1="512.7" x2="1234.4" y2="509.7" stroke="#9adfe2" stroke-width="0.7" stroke-dasharray="5 3"/>
<rect x="1238.6" y="531.3" width="113.9" height="11.4" fill="#f0f9f9"/>
<text x="1295.5" y="541.8" font-size="13.3" fill="#3fe2e4" fill-opacity="0.88" text-anchor="middle" textLength="108" lengthAdjust="spacingAndGlyphs">WALL ABOVE</text>
<line x1="1242.8" y1="538.5" x2="1348.3" y2="535.5" stroke="#9adfe2" stroke-width="0.7" stroke-dasharray="5 3"/>
<rect x="1134.2" y="533.2" width="58.2" height="15.8" fill="#f0f9f9"/>
<text x="1163.3" y="546.4" font-size="14.8" fill="#3fe2e4" fill-opacity="0.88" text-anchor="middle" textLength="52.3" lengthAdjust="spacingAndGlyphs">2x10 CJ</text>
<line x1="1138.4" y1="542.6" x2="1188.2" y2="539.6" stroke="#9adfe2" stroke-width="0.7" stroke-dasharray="5 3"/>
<rect x="1126.3" y="551.2" width="74.3" height="14.8" fill="#f0f9f9"/>
<text x="1163.4" y="563.4" font-size="13.4" fill="#3fe2e4" fill-opacity="0.88" text-anchor="middle" textLength="68.4" lengthAdjust="spacingAndGlyphs">@ 16" O.C.</text>
<line x1="1130.5" y1="560.1" x2="1196.4" y2="557.1" stroke="#9adfe2" stroke-width="0.7" stroke-dasharray="5 3"/>
<line x1="1104.1" y1="537" x2="1104.1" y2="580.6" stroke="#25d9e6" stroke-width="1.8"/>
<polygon points="1104.1,537 1106.4,545 1101.8,545" fill="#25d9e6" stroke="#25d9e6" stroke-width="0.6"/>
<polygon points="1104.1,580.6 1101.8,572.6 1106.4,572.6" fill="#25d9e6" stroke="#25d9e6" stroke-width="0.6"/>
<path d="M1134 540 Q1124 538 1120 545 T1108 556" fill="none" stroke="#25d9e6" stroke-width="1.1"/>
<polygon points="1105,558 1110.8,552 1113.1,556" fill="#25d9e6" stroke="#25d9e6" stroke-width="0.6"/>
<rect x="1150" y="568" width="11.7" height="14.8" fill="#f0f9f9"/>
<text x="1155.8" y="580.2" font-size="13.4" fill="#3fe2e4" fill-opacity="0.88" text-anchor="middle">2</text>
<rect x="1189.2" y="567" width="58.9" height="15.8" fill="#f0f9f9"/>
<text x="1218.7" y="580.2" font-size="14.8" fill="#3fe2e4" fill-opacity="0.88" text-anchor="middle" textLength="53" lengthAdjust="spacingAndGlyphs">(2)-2x10</text>
<line x1="1193.4" y1="576.4" x2="1243.9" y2="573.4" stroke="#9adfe2" stroke-width="0.7" stroke-dasharray="5 3"/>
<rect x="1278.8" y="567" width="11.7" height="14.9" fill="#f0f9f9"/>
<text x="1284.7" y="579.3" font-size="13.5" fill="#3fe2e4" fill-opacity="0.88" text-anchor="middle">2</text>
<rect x="1387" y="566" width="12" height="15.9" fill="#f0f9f9"/>
<text x="1393" y="579.3" font-size="14.9" fill="#3fe2e4" fill-opacity="0.88" text-anchor="middle">2</text>
<rect x="308.5" y="887.6" width="131.1" height="16.4" fill="#f0f9f9"/>
<text x="374.1" y="901.4" font-size="15.6" fill="#3fe2e4" fill-opacity="0.88" text-anchor="middle" textLength="125.2" lengthAdjust="spacingAndGlyphs">(2) 1.75x11.875 LVL</text>
<line x1="312.7" y1="897.3" x2="435.4" y2="894.3" stroke="#9adfe2" stroke-width="0.7" stroke-dasharray="5 3"/>
<rect x="262.3" y="873.4" width="13" height="15.8" fill="#f0f9f9"/>
<text x="268.8" y="886.6" font-size="14.8" fill="#3fe2e4" fill-opacity="0.88" text-anchor="middle">3</text>
<rect x="576.6" y="872.4" width="12.6" height="14.2" fill="#f0f9f9"/>
<text x="582.9" y="884" font-size="12.6" fill="#3fe2e4" fill-opacity="0.88" text-anchor="middle">3</text>
<text x="460" y="901.5" font-size="15.1" fill="#2fe3ee" stroke="#2fe3ee" stroke-width="0.28" textLength="97.6" lengthAdjust="spacingAndGlyphs">WALL ABOVE</text>
<rect x="757.6" y="707.2" width="57.9" height="14.8" fill="#f0f9f9"/>
<text x="786.5" y="719.4" font-size="13.4" fill="#3fe2e4" fill-opacity="0.88" text-anchor="middle" textLength="52" lengthAdjust="spacingAndGlyphs">(2)-2x10</text>
<line x1="761.8" y1="716.1" x2="811.3" y2="713.1" stroke="#9adfe2" stroke-width="0.7" stroke-dasharray="5 3"/>
<rect x="724.7" y="801.2" width="58.2" height="15.8" fill="#f0f9f9"/>
<text x="753.8" y="814.4" font-size="14.8" fill="#3fe2e4" fill-opacity="0.88" text-anchor="middle" textLength="52.3" lengthAdjust="spacingAndGlyphs">(2)-2x10</text>
<line x1="728.9" y1="810.6" x2="778.7" y2="807.6" stroke="#9adfe2" stroke-width="0.7" stroke-dasharray="5 3"/>
<rect x="712" y="739.5" width="10.8" height="15.8" fill="#f0f9f9"/>
<text x="720.2" y="747.4" font-size="7.8" fill="#3fe2e4" fill-opacity="0.88" text-anchor="middle" transform="rotate(-90 720.2 747.4)">3</text>
<line x1="777.8" y1="613" x2="777.8" y2="690.4" stroke="#25d9e6" stroke-width="1.8"/>
<polygon points="777.8,613 780.1,621 775.5,621" fill="#25d9e6" stroke="#25d9e6" stroke-width="0.6"/>
<polygon points="777.8,690.4 775.5,682.4 780.1,682.4" fill="#25d9e6" stroke="#25d9e6" stroke-width="0.6"/>
<rect x="757.6" y="621.5" width="16.8" height="54.1" fill="#f0f9f9"/>
<text x="771.8" y="648.5" font-size="16.1" fill="#3fe2e4" fill-opacity="0.88" text-anchor="middle" transform="rotate(-90 771.8 648.5)" textLength="48.2" lengthAdjust="spacingAndGlyphs">2x6 CJ</text>
<line x1="767.5" y1="625.7" x2="764.5" y2="671.4" stroke="#9adfe2" stroke-width="0.7" stroke-dasharray="5 3"/>
<rect x="781.6" y="612.3" width="14.9" height="72.7" fill="#f0f9f9"/>
<text x="793.9" y="648.6" font-size="13.5" fill="#3fe2e4" fill-opacity="0.88" text-anchor="middle" transform="rotate(-90 793.9 648.6)" textLength="66.8" lengthAdjust="spacingAndGlyphs">@ 16" O.C.</text>
<line x1="790.5" y1="616.5" x2="787.5" y2="680.8" stroke="#9adfe2" stroke-width="0.7" stroke-dasharray="5 3"/>
<line x1="876.3" y1="620.8" x2="876.3" y2="899.3" stroke="#25d9e6" stroke-width="1.8"/>
<polygon points="876.3,620.8 878.6,630.8 874,630.8" fill="#25d9e6" stroke="#25d9e6" stroke-width="0.6"/>
<polygon points="876.3,899.3 874,889.3 878.6,889.3" fill="#25d9e6" stroke="#25d9e6" stroke-width="0.6"/>
<rect x="858.9" y="758.5" width="17.1" height="66.5" fill="#f0f9f9"/>
<text x="873.2" y="791.8" font-size="16.1" fill="#3fe2e4" fill-opacity="0.88" text-anchor="middle" transform="rotate(-90 873.2 791.8)" textLength="60.6" lengthAdjust="spacingAndGlyphs">2x10 CJ</text>
<line x1="869" y1="762.7" x2="866" y2="820.8" stroke="#9adfe2" stroke-width="0.7" stroke-dasharray="5 3"/>
<rect x="876" y="758.5" width="16.7" height="74.3" fill="#f0f9f9"/>
<text x="890.1" y="795.6" font-size="16.1" fill="#3fe2e4" fill-opacity="0.88" text-anchor="middle" transform="rotate(-90 890.1 795.6)" textLength="68.4" lengthAdjust="spacingAndGlyphs">@ 16" O.C.</text>
<line x1="885.9" y1="762.7" x2="882.9" y2="828.6" stroke="#9adfe2" stroke-width="0.7" stroke-dasharray="5 3"/>
<line x1="1036" y1="634.4" x2="1036" y2="904" stroke="#25d9e6" stroke-width="1.8"/>
<polygon points="1036,634.4 1038.3,644.4 1033.7,644.4" fill="#25d9e6" stroke="#25d9e6" stroke-width="0.6"/>
<polygon points="1036,904 1033.7,894 1038.3,894" fill="#25d9e6" stroke="#25d9e6" stroke-width="0.6"/>
<rect x="1019.3" y="771" width="16.7" height="58.7" fill="#f0f9f9"/>
<text x="1033.4" y="800.4" font-size="16.1" fill="#3fe2e4" fill-opacity="0.88" text-anchor="middle" transform="rotate(-90 1033.4 800.4)" textLength="52.8" lengthAdjust="spacingAndGlyphs">2x10 CJ</text>
<line x1="1029.2" y1="775.2" x2="1026.2" y2="825.5" stroke="#9adfe2" stroke-width="0.7" stroke-dasharray="5 3"/>
<rect x="1036" y="764.2" width="16.5" height="73.4" fill="#f0f9f9"/>
<text x="1049.9" y="800.9" font-size="15.8" fill="#3fe2e4" fill-opacity="0.88" text-anchor="middle" transform="rotate(-90 1049.9 800.9)" textLength="67.5" lengthAdjust="spacingAndGlyphs">@ 16" O.C.</text>
<line x1="1045.8" y1="768.4" x2="1042.8" y2="833.4" stroke="#9adfe2" stroke-width="0.7" stroke-dasharray="5 3"/>
<line x1="1286" y1="616" x2="1286" y2="901" stroke="#25d9e6" stroke-width="1.8"/>
<polygon points="1286,616 1288.3,626 1283.7,626" fill="#25d9e6" stroke="#25d9e6" stroke-width="0.6"/>
<polygon points="1286,901 1283.7,891 1288.3,891" fill="#25d9e6" stroke="#25d9e6" stroke-width="0.6"/>
<rect x="1269.3" y="726.2" width="16.7" height="57" fill="#f0f9f9"/>
<text x="1283.4" y="754.7" font-size="16.1" fill="#3fe2e4" fill-opacity="0.88" text-anchor="middle" transform="rotate(-90 1283.4 754.7)" textLength="51.1" lengthAdjust="spacingAndGlyphs">2x10 CJ</text>
<line x1="1279.2" y1="730.4" x2="1276.2" y2="779" stroke="#9adfe2" stroke-width="0.7" stroke-dasharray="5 3"/>
<rect x="1286" y="719" width="17.2" height="73.7" fill="#f0f9f9"/>
<text x="1300.3" y="755.9" font-size="16.1" fill="#3fe2e4" fill-opacity="0.88" text-anchor="middle" transform="rotate(-90 1300.3 755.9)" textLength="67.8" lengthAdjust="spacingAndGlyphs">@ 16" O.C.</text>
<line x1="1296.1" y1="723.2" x2="1293.1" y2="788.5" stroke="#9adfe2" stroke-width="0.7" stroke-dasharray="5 3"/>
<rect x="1331" y="702.2" width="15.2" height="58.8" fill="#f0f9f9"/>
<text x="1343.6" y="731.6" font-size="14" fill="#3fe2e4" fill-opacity="0.88" text-anchor="middle" transform="rotate(-90 1343.6 731.6)" textLength="52.9" lengthAdjust="spacingAndGlyphs">(3)-2x10</text>
<line x1="1340.1" y1="706.4" x2="1337.1" y2="756.8" stroke="#9adfe2" stroke-width="0.7" stroke-dasharray="5 3"/>
<path d="M1339 761 Q1339 770 1349 767 T1376 752" fill="none" stroke="#25d9e6" stroke-width="1.1"/>
<rect x="1466.5" y="748.4" width="54.4" height="15.5" fill="#f0f9f9"/>
<text x="1493.7" y="761.3" font-size="14.4" fill="#3fe2e4" fill-opacity="0.88" text-anchor="middle" textLength="48.5" lengthAdjust="spacingAndGlyphs">2x6 CJ</text>
<line x1="1470.7" y1="757.6" x2="1516.7" y2="754.6" stroke="#9adfe2" stroke-width="0.7" stroke-dasharray="5 3"/>
<rect x="1456" y="765.8" width="73.7" height="15.5" fill="#f0f9f9"/>
<text x="1492.8" y="778.7" font-size="14.4" fill="#3fe2e4" fill-opacity="0.88" text-anchor="middle" textLength="67.8" lengthAdjust="spacingAndGlyphs">@ 16" O.C.</text>
<line x1="1460.2" y1="775" x2="1525.5" y2="772" stroke="#9adfe2" stroke-width="0.7" stroke-dasharray="5 3"/>
<line x1="1388" y1="785.4" x2="1430" y2="785.4" stroke="#25d9e6" stroke-width="1.8"/>
<polygon points="1388,785.4 1395,783.1 1395,787.7" fill="#25d9e6" stroke="#25d9e6" stroke-width="0.6"/>
<polygon points="1430,785.4 1423,787.7 1423,783.1" fill="#25d9e6" stroke="#25d9e6" stroke-width="0.6"/>
<path d="M1466 757 Q1448 752 1436 765 T1412 784" fill="none" stroke="#25d9e6" stroke-width="1.1"/>
<rect x="1172.8" y="731.6" width="14.2" height="10.4" fill="#f0f9f9"/>
<text x="1179.9" y="739.4" font-size="7.3" fill="#3fe2e4" fill-opacity="0.88" text-anchor="middle" textLength="9.7" lengthAdjust="spacingAndGlyphs">12</text>
<line x1="1199.3" y1="931" x2="1199.3" y2="1106.6" stroke="#25d9e6" stroke-width="1.8"/>
<polygon points="1199.3,931 1201.6,941 1197,941" fill="#25d9e6" stroke="#25d9e6" stroke-width="0.6"/>
<polygon points="1199.3,1106.6 1197,1096.6 1201.6,1096.6" fill="#25d9e6" stroke="#25d9e6" stroke-width="0.6"/>
<rect x="1182.5" y="988" width="16.8" height="58.5" fill="#f0f9f9"/>
<text x="1196.7" y="1017.2" font-size="16.1" fill="#3fe2e4" fill-opacity="0.88" text-anchor="middle" transform="rotate(-90 1196.7 1017.2)" textLength="52.6" lengthAdjust="spacingAndGlyphs">2x10 CJ</text>
<line x1="1192.4" y1="992.2" x2="1189.4" y2="1042.3" stroke="#9adfe2" stroke-width="0.7" stroke-dasharray="5 3"/>
<rect x="1199.3" y="981" width="17.4" height="73.4" fill="#f0f9f9"/>
<text x="1213.8" y="1017.7" font-size="16.1" fill="#3fe2e4" fill-opacity="0.88" text-anchor="middle" transform="rotate(-90 1213.8 1017.7)" textLength="67.5" lengthAdjust="spacingAndGlyphs">@ 16" O.C.</text>
<line x1="1209.5" y1="985.2" x2="1206.5" y2="1050.2" stroke="#9adfe2" stroke-width="0.7" stroke-dasharray="5 3"/>
<line x1="1200.3" y1="1159.8" x2="1200.3" y2="1418.4" stroke="#25d9e6" stroke-width="1.8"/>
<polygon points="1200.3,1159.8 1202.6,1169.8 1198,1169.8" fill="#25d9e6" stroke="#25d9e6" stroke-width="0.6"/>
<polygon points="1200.3,1418.4 1198,1408.4 1202.6,1408.4" fill="#25d9e6" stroke="#25d9e6" stroke-width="0.6"/>
<rect x="1184.1" y="1258.5" width="16.2" height="58.6" fill="#f0f9f9"/>
<text x="1197.7" y="1287.8" font-size="15.4" fill="#3fe2e4" fill-opacity="0.88" text-anchor="middle" transform="rotate(-90 1197.7 1287.8)" textLength="52.7" lengthAdjust="spacingAndGlyphs">2x10 CJ</text>
<line x1="1193.7" y1="1262.7" x2="1190.7" y2="1312.9" stroke="#9adfe2" stroke-width="0.7" stroke-dasharray="5 3"/>
<rect x="1200.3" y="1251.3" width="17.4" height="73.7" fill="#f0f9f9"/>
<text x="1214.8" y="1288.2" font-size="16.1" fill="#3fe2e4" fill-opacity="0.88" text-anchor="middle" transform="rotate(-90 1214.8 1288.2)" textLength="67.8" lengthAdjust="spacingAndGlyphs">@ 16" O.C.</text>
<line x1="1210.5" y1="1255.5" x2="1207.5" y2="1320.8" stroke="#9adfe2" stroke-width="0.7" stroke-dasharray="5 3"/>
<rect x="964.5" y="1017.4" width="19.6" height="11.7" fill="#f0f9f9"/>
<text x="974.3" y="1026.5" font-size="9.1" fill="#3fe2e4" fill-opacity="0.88" text-anchor="middle" textLength="15.7" lengthAdjust="spacingAndGlyphs">DJ</text>
<rect x="1262.6" y="1017.4" width="19.6" height="11.7" fill="#f0f9f9"/>
<text x="1272.4" y="1026.5" font-size="9.1" fill="#3fe2e4" fill-opacity="0.88" text-anchor="middle" textLength="15.7" lengthAdjust="spacingAndGlyphs">DJ</text>
<rect x="964.5" y="1271.2" width="19.6" height="11.7" fill="#f0f9f9"/>
<text x="974.3" y="1280.3" font-size="9.1" fill="#3fe2e4" fill-opacity="0.88" text-anchor="middle" textLength="15.7" lengthAdjust="spacingAndGlyphs">DJ</text>
<rect x="1262.6" y="1271.2" width="19.6" height="11.7" fill="#f0f9f9"/>
<text x="1272.4" y="1280.3" font-size="9.1" fill="#3fe2e4" fill-opacity="0.88" text-anchor="middle" textLength="15.7" lengthAdjust="spacingAndGlyphs">DJ</text>
<rect x="839.2" y="1138.9" width="13" height="15.2" fill="#f0f9f9"/>
<text x="845.7" y="1151.5" font-size="14" fill="#3fe2e4" fill-opacity="0.88" text-anchor="middle">5</text>
<rect x="1363.9" y="1138.9" width="13.6" height="15.2" fill="#f0f9f9"/>
<text x="1370.7" y="1151.5" font-size="14" fill="#3fe2e4" fill-opacity="0.88" text-anchor="middle">5</text>
<rect x="1057.8" y="1416.8" width="96.3" height="15.8" fill="#f0f9f9"/>
<text x="1105.9" y="1430" font-size="14.8" fill="#3fe2e4" fill-opacity="0.88" text-anchor="middle" textLength="90.4" lengthAdjust="spacingAndGlyphs">(3) 1.75x11.875</text>
<line x1="1062" y1="1426.2" x2="1149.9" y2="1423.2" stroke="#9adfe2" stroke-width="0.7" stroke-dasharray="5 3"/>
<rect x="827.5" y="1442" width="11" height="16.9" fill="#f0f9f9"/>
<text x="833" y="1456.2" font-size="16.1" fill="#3fe2e4" fill-opacity="0.88" text-anchor="middle">2</text>
<rect x="1376.5" y="1442" width="11.1" height="16.9" fill="#f0f9f9"/>
<text x="1382" y="1456.2" font-size="16.1" fill="#3fe2e4" fill-opacity="0.88" text-anchor="middle">2</text>
<rect x="1387" y="919.2" width="12" height="14.8" fill="#f0f9f9"/>
<text x="1393" y="931.4" font-size="13.4" fill="#3fe2e4" fill-opacity="0.88" text-anchor="middle">2</text>
<rect x="575.6" y="983.2" width="11.1" height="14.9" fill="#f0f9f9"/>
<text x="581.2" y="995.5" font-size="13.5" fill="#3fe2e4" fill-opacity="0.88" text-anchor="middle">2</text>
<rect x="575.6" y="1108.2" width="11.1" height="15.2" fill="#f0f9f9"/>
<text x="581.2" y="1120.8" font-size="14" fill="#3fe2e4" fill-opacity="0.88" text-anchor="middle">2</text>
<rect x="549.7" y="1024.4" width="15.5" height="58.5" fill="#f0f9f9"/>
<text x="562.6" y="1053.7" font-size="14.4" fill="#3fe2e4" fill-opacity="0.88" text-anchor="middle" transform="rotate(-90 562.6 1053.7)" textLength="52.6" lengthAdjust="spacingAndGlyphs">(2)-2x10</text>
<line x1="559" y1="1028.6" x2="556" y2="1078.7" stroke="#9adfe2" stroke-width="0.7" stroke-dasharray="5 3"/>
<rect x="347.8" y="1158.9" width="11.1" height="16.4" fill="#f0f9f9"/>
<text x="353.4" y="1172.7" font-size="15.6" fill="#3fe2e4" fill-opacity="0.88" text-anchor="middle">2</text>
<rect x="492.7" y="1158.9" width="11.1" height="16.4" fill="#f0f9f9"/>
<text x="498.2" y="1172.7" font-size="15.6" fill="#3fe2e4" fill-opacity="0.88" text-anchor="middle">2</text>
<rect x="395.3" y="1159.8" width="58.5" height="15.5" fill="#f0f9f9"/>
<text x="424.6" y="1172.7" font-size="14.4" fill="#3fe2e4" fill-opacity="0.88" text-anchor="middle" textLength="52.6" lengthAdjust="spacingAndGlyphs">(2)-2x10</text>
<line x1="399.5" y1="1169" x2="449.6" y2="1166" stroke="#9adfe2" stroke-width="0.7" stroke-dasharray="5 3"/>
<rect x="624.7" y="1139.2" width="11.1" height="15.8" fill="#f0f9f9"/>
<text x="630.2" y="1152.4" font-size="14.8" fill="#3fe2e4" fill-opacity="0.88" text-anchor="middle">2</text>
<rect x="768.7" y="1139.2" width="11" height="15.8" fill="#f0f9f9"/>
<text x="774.2" y="1152.4" font-size="14.8" fill="#3fe2e4" fill-opacity="0.88" text-anchor="middle">2</text>
<rect x="663.3" y="1139.9" width="58.9" height="15.1" fill="#f0f9f9"/>
<text x="692.8" y="1152.4" font-size="13.8" fill="#3fe2e4" fill-opacity="0.88" text-anchor="middle" textLength="53" lengthAdjust="spacingAndGlyphs">(2)-2x10</text>
<line x1="667.5" y1="1149" x2="718" y2="1146" stroke="#9adfe2" stroke-width="0.7" stroke-dasharray="5 3"/>
<text x="582" y="263" font-size="14.7" fill="#2fe3ee" stroke="#2fe3ee" stroke-width="0.28" text-anchor="middle">3</text>
<text x="268.5" y="529.5" font-size="14.7" fill="#2fe3ee" stroke="#2fe3ee" stroke-width="0.28" text-anchor="middle">3</text>
<text x="979.7" y="529.5" font-size="14.7" fill="#2fe3ee" stroke="#2fe3ee" stroke-width="0.28" text-anchor="middle">3</text>
<text x="1393.7" y="529.5" font-size="14.7" fill="#2fe3ee" stroke="#2fe3ee" stroke-width="0.28" text-anchor="middle">3</text>
<text x="1032" y="930.5" font-size="14.7" fill="#2fe3ee" stroke="#2fe3ee" stroke-width="0.28" text-anchor="middle">3</text>
<text x="1164.9" y="930" font-size="14.7" fill="#2fe3ee" stroke="#2fe3ee" stroke-width="0.28" text-anchor="middle">3</text>
<text x="897" y="1455" font-size="14.7" fill="#2fe3ee" stroke="#2fe3ee" stroke-width="0.28" text-anchor="middle">3</text>
<text x="1318" y="1455" font-size="14.7" fill="#2fe3ee" stroke="#2fe3ee" stroke-width="0.28" text-anchor="middle">3</text>
<text x="1070.6" y="949" font-size="15.1" fill="#2fe3ee" stroke="#2fe3ee" stroke-width="0.28" textLength="57.9" lengthAdjust="spacingAndGlyphs">VALLEY</text>
<text x="1083.5" y="966.7" font-size="15.1" fill="#2fe3ee" stroke="#2fe3ee" stroke-width="0.28" textLength="32.3" lengthAdjust="spacingAndGlyphs">BRG</text>
<path d="M1068 945 Q1052 945 1046 935 T1036 924" fill="none" stroke="#25d9e6" stroke-width="1.1"/>
<polygon points="1034,921 1040.5,926.2 1036.7,928.9" fill="#25d9e6" stroke="#25d9e6" stroke-width="0.6"/>
<path d="M1131 945 Q1148 945 1152 925 T1163 893" fill="none" stroke="#25d9e6" stroke-width="1.1"/>
<polygon points="1164,890 1163.4,898.3 1159.1,896.7" fill="#25d9e6" stroke="#25d9e6" stroke-width="0.6"/>
<text x="1424.4" y="971" font-size="15.1" fill="#2fe3ee" stroke="#2fe3ee" stroke-width="0.28" textLength="56.9" lengthAdjust="spacingAndGlyphs">LINE OF</text>
<text x="1404.4" y="988.9" font-size="15.1" fill="#2fe3ee" stroke="#2fe3ee" stroke-width="0.28" textLength="98.1" lengthAdjust="spacingAndGlyphs">WALL ABOVE</text>
<path d="M1421 966 Q1395 966 1380 935 T1352 884" fill="none" stroke="#25d9e6" stroke-width="1.1"/>
<text x="1041.1" y="1151.9" font-size="14.7" fill="#2fe3ee" stroke="#2fe3ee" stroke-width="0.28" textLength="106" lengthAdjust="spacingAndGlyphs">(3) 1.75x16 LVL</text>
<text x="1055.3" y="1169.3" font-size="14.7" fill="#2fe3ee" stroke="#2fe3ee" stroke-width="0.28" textLength="78.5" lengthAdjust="spacingAndGlyphs">TOP FLUSH</text>
<text x="1013.5" y="1465.8" font-size="14" fill="#2fe3ee" stroke="#2fe3ee" stroke-width="0.28" textLength="193.7" lengthAdjust="spacingAndGlyphs">EXTEND HDR ACROSS CS</text>
<text x="985.7" y="1483.9" font-size="14" fill="#2fe3ee" stroke="#2fe3ee" stroke-width="0.28" textLength="119.6" lengthAdjust="spacingAndGlyphs">PORTAL FRAME.</text>
<text x="1118" y="1483.9" font-size="14" fill="#2fe3ee" stroke="#2fe3ee" stroke-width="0.28" textLength="117.7" lengthAdjust="spacingAndGlyphs">SEE DETAIL 'D'.</text>
<text x="1074.3" y="1501.3" font-size="14" fill="#2fe3ee" stroke="#2fe3ee" stroke-width="0.28" textLength="72.2" lengthAdjust="spacingAndGlyphs">SHEET SD</text>
<polyline points="848,1441 848,1478.2 982.5,1478.2" fill="none" stroke="#25d9e6" stroke-width="1.1"/>
<polyline points="1363.9,1441 1363.9,1478.2 1240.4,1478.2" fill="none" stroke="#25d9e6" stroke-width="1.1"/>
<text x="913" y="1395.6" font-size="14.7" fill="#2fe3ee" stroke="#2fe3ee" stroke-width="0.28" textLength="26.8" lengthAdjust="spacingAndGlyphs">2x6</text>
<text x="907.5" y="1413" font-size="14.7" fill="#2fe3ee" stroke="#2fe3ee" stroke-width="0.28" textLength="37.7" lengthAdjust="spacingAndGlyphs">WALL</text>
<path d="M911 1391 Q896 1392 892 1405 T882 1428" fill="none" stroke="#25d9e6" stroke-width="1.1"/>
<polygon points="881,1431 881.6,1422.7 885.9,1424.3" fill="#25d9e6" stroke="#25d9e6" stroke-width="0.6"/>
<text x="1326.8" y="1395.6" font-size="14.7" fill="#2fe3ee" stroke="#2fe3ee" stroke-width="0.28" textLength="26" lengthAdjust="spacingAndGlyphs">2x6</text>
<text x="1321.1" y="1413" font-size="14.7" fill="#2fe3ee" stroke="#2fe3ee" stroke-width="0.28" textLength="37.4" lengthAdjust="spacingAndGlyphs">WALL</text>
<path d="M1354 1391 Q1366 1392 1364 1405 T1359.5 1426" fill="none" stroke="#25d9e6" stroke-width="1.1"/>
<polygon points="1359,1431 1357.4,1422.8 1362,1423.2" fill="#25d9e6" stroke="#25d9e6" stroke-width="0.6"/>
<line x1="867" y1="1127.2" x2="867" y2="1440.5" stroke="#25d9e6" stroke-width="1.2"/>
<line x1="862" y1="1122" x2="872" y2="1132" stroke="#25d9e6" stroke-width="2"/>
<line x1="862" y1="1431" x2="872" y2="1445" stroke="#25d9e6" stroke-width="2"/>
<text x="862.5" y="1285" font-size="14.5" fill="#2fe3ee" stroke="#2fe3ee" stroke-width="0.28" text-anchor="middle" textLength="64" lengthAdjust="spacingAndGlyphs" transform="rotate(-90 862.5 1285)">12'-0" TO</text>
<text x="882.5" y="1285" font-size="14.5" fill="#2fe3ee" stroke="#2fe3ee" stroke-width="0.28" text-anchor="middle" textLength="54" lengthAdjust="spacingAndGlyphs" transform="rotate(-90 882.5 1285)">℄ BEAM</text>
<circle cx="644.3" cy="181" r="26" fill="none" stroke="#25d9e6" stroke-width="1.2"/>
<line x1="618.3" y1="181" x2="670.3" y2="181" stroke="#25d9e6" stroke-width="1.2"/>
<text x="644.3" y="176" font-size="14.7" fill="#2fe3ee" stroke="#2fe3ee" stroke-width="0.28" text-anchor="middle">B</text>
<text x="644.3" y="196.5" font-size="14.5" fill="#2fe3ee" stroke="#2fe3ee" stroke-width="0.28" text-anchor="middle" textLength="27" lengthAdjust="spacingAndGlyphs">S-2</text>
<polyline points="618.3,181 604,181 574,241" fill="none" stroke="#25d9e6" stroke-width="1.2"/>
<circle cx="905.6" cy="1068.7" r="26.3" fill="none" stroke="#25d9e6" stroke-width="1.2"/>
<line x1="879.3" y1="1068.7" x2="931.9" y2="1068.7" stroke="#25d9e6" stroke-width="1.2"/>
<text x="905.6" y="1063.5" font-size="14.7" fill="#2fe3ee" stroke="#2fe3ee" stroke-width="0.28" text-anchor="middle">C</text>
<text x="905.6" y="1084.5" font-size="14.5" fill="#2fe3ee" stroke="#2fe3ee" stroke-width="0.28" text-anchor="middle" textLength="27" lengthAdjust="spacingAndGlyphs">S-2</text>
<polyline points="879.3,1068.7 866,1068.7 837,1123.4" fill="none" stroke="#25d9e6" stroke-width="1.2"/>
<text x="905.6" y="1109.2" font-size="14.5" fill="#2fe3ee" stroke="#2fe3ee" stroke-width="0.28" text-anchor="middle" textLength="31" lengthAdjust="spacingAndGlyphs">TYP.</text>
<text x="686.4" y="1036" font-size="14.5" fill="#2fe3ee" stroke="#2fe3ee" stroke-width="0.28" text-anchor="middle" textLength="42" lengthAdjust="spacingAndGlyphs" transform="rotate(-30 686.4 1036)">OPEN</text>
<text x="696" y="1052" font-size="14.5" fill="#2fe3ee" stroke="#2fe3ee" stroke-width="0.28" text-anchor="middle" textLength="52" lengthAdjust="spacingAndGlyphs" transform="rotate(-30 696 1052)">ABOVE</text>
<path d="M626 1011 Q650 994 655 1000 Q660 1010 647 1038 Q640 1054 664 1044" fill="none" stroke="#25d9e6" stroke-width="1.2"/>
<path d="M720 1033 Q738 1020 744 1026 Q752 1040 752 1052 Q756 1062 775 1042" fill="none" stroke="#25d9e6" stroke-width="1.2"/>
<text x="644.6" y="1215.8" font-size="14" fill="#2fe3ee" stroke="#2fe3ee" stroke-width="0.28" textLength="116.2" lengthAdjust="spacingAndGlyphs">NOTE: RAFTERS</text>
<text x="631.6" y="1234.2" font-size="14" fill="#2fe3ee" stroke="#2fe3ee" stroke-width="0.28" textLength="141.8" lengthAdjust="spacingAndGlyphs">CANTILEVER OVER</text>
<text x="657.3" y="1251.6" font-size="14" fill="#2fe3ee" stroke="#2fe3ee" stroke-width="0.28" textLength="90.8" lengthAdjust="spacingAndGlyphs">FRONT WALL</text>
<path d="M641 1211 Q610 1213 606 1195 T611 1140" fill="none" stroke="#25d9e6" stroke-width="1.1"/>
<polygon points="611.4,1136.7 613.4,1145.8 608.8,1145.6" fill="#25d9e6" stroke="#25d9e6" stroke-width="0.6"/>
<path d="M764 1211 Q795 1213 798 1195 T792 1140" fill="none" stroke="#25d9e6" stroke-width="1.1"/>
<polygon points="791.5,1136.7 794.1,1145.6 789.5,1145.8" fill="#25d9e6" stroke="#25d9e6" stroke-width="0.6"/>
<rect x="1095.9" y="72.8" width="287" height="150.3" fill="none" stroke="#25d9e6" stroke-width="1.3"/>
<text x="1154.4" y="106.3" font-size="22.3" fill="#2fe3ee" textLength="166.2" lengthAdjust="spacingAndGlyphs">WHOLE HOUSE</text>
<line x1="1153.4" y1="109.8" x2="1321.6" y2="109.8" stroke="#2fe3ee" stroke-width="1.1"/>
<text x="1120" y="132.9" font-size="22.3" fill="#2fe3ee" textLength="234" lengthAdjust="spacingAndGlyphs">BRACING SUMMARY</text>
<line x1="1119" y1="136.4" x2="1355" y2="136.4" stroke="#2fe3ee" stroke-width="1.1"/>
<text x="1116" y="180.7" font-size="15.4" fill="#2fe3ee" stroke="#2fe3ee" stroke-width="0.28" textLength="243" lengthAdjust="spacingAndGlyphs">TOTAL REQUIRED BRACING: 42</text>
<text x="1112" y="199.4" font-size="15.4" fill="#2fe3ee" stroke="#2fe3ee" stroke-width="0.28" textLength="250" lengthAdjust="spacingAndGlyphs">TOTAL PROVIDED BRACING: 95</text>
<text x="1202" y="217.7" font-size="15.4" fill="#2fe3ee" stroke="#2fe3ee" stroke-width="0.28" textLength="70" lengthAdjust="spacingAndGlyphs">(IN FEET)</text>
<rect x="1576.3" y="394.3" width="316.7" height="68" fill="none" stroke="#25d9e6" stroke-width="1.3"/>
<text x="1596.5" y="411.7" font-size="13.4" fill="#2fe3ee" stroke="#2fe3ee" stroke-width="0.28" textLength="132" lengthAdjust="spacingAndGlyphs">REFER TO "SD"</text>
<text x="1745.3" y="411.7" font-size="13.4" fill="#2fe3ee" stroke="#2fe3ee" stroke-width="0.28" textLength="121.7" lengthAdjust="spacingAndGlyphs">SHEET(S) FOR</text>
<text x="1596.5" y="429.7" font-size="13.4" fill="#2fe3ee" stroke="#2fe3ee" stroke-width="0.28" textLength="270.5" lengthAdjust="spacingAndGlyphs">STANDARD DETAILS, BRACING</text>
<text x="1583" y="447.5" font-size="13.4" fill="#2fe3ee" stroke="#2fe3ee" stroke-width="0.28" textLength="304" lengthAdjust="spacingAndGlyphs">DETAILS AND STRUCTURAL NOTES.</text>
<rect x="1575" y="515.2" width="350" height="253.5" fill="none" stroke="#25d9e6" stroke-width="1.3"/>
<text x="1589.6" y="543" font-size="17.3" fill="#2fe3ee" stroke="#2fe3ee" stroke-width="0.28" textLength="264.8" lengthAdjust="spacingAndGlyphs">HEADER AND COLUMN NOTES</text>
<line x1="1588.6" y1="546.3" x2="1855.4" y2="546.3" stroke="#2fe3ee" stroke-width="1.1"/>
<text x="1589.6" y="579.4" font-size="14" fill="#2fe3ee" stroke="#2fe3ee" stroke-width="0.28" textLength="283.8" lengthAdjust="spacingAndGlyphs">1. ALL EXTERIOR AND LOAD BEARING</text>
<text x="1589.6" y="597.5" font-size="14" fill="#2fe3ee" stroke="#2fe3ee" stroke-width="0.28" textLength="303.8" lengthAdjust="spacingAndGlyphs">HEADERS SHALL BE MIN. (2) 2x6 WITH (1)</text>
<text x="1589.6" y="615.2" font-size="14" fill="#2fe3ee" stroke="#2fe3ee" stroke-width="0.28" textLength="318.6" lengthAdjust="spacingAndGlyphs">SUPPORT STUD AND (1) KING STUD, UNLESS</text>
<text x="1589.6" y="633.2" font-size="14" fill="#2fe3ee" stroke="#2fe3ee" stroke-width="0.28" textLength="141.4" lengthAdjust="spacingAndGlyphs">NOTED OTHERWISE.</text>
<text x="1589.6" y="669" font-size="14" fill="#2fe3ee" stroke="#2fe3ee" stroke-width="0.28" textLength="275.9" lengthAdjust="spacingAndGlyphs">2. THE NUMBER SHOWN AT BEAM AND</text>
<text x="1589.6" y="687" font-size="14" fill="#2fe3ee" stroke="#2fe3ee" stroke-width="0.28" textLength="264.2" lengthAdjust="spacingAndGlyphs">HEADER SUPPORTS INDICATES THE</text>
<text x="1589.6" y="705" font-size="14" fill="#2fe3ee" stroke="#2fe3ee" stroke-width="0.28" textLength="315.4" lengthAdjust="spacingAndGlyphs">NUMBER OF SUPPORT STUDS REQUIRED IN</text>
<text x="1589.6" y="722.8" font-size="14" fill="#2fe3ee" stroke="#2fe3ee" stroke-width="0.28" textLength="201.4" lengthAdjust="spacingAndGlyphs">STUD POCKET OR COLUMN.</text>
<polyline points="1712.3,834 1712.3,933.5 1749,946.5 1749,843" fill="none" stroke="#25d9e6" stroke-width="1.2"/>
<polyline points="1749,843 1765.8,838.9 1765.8,959.1" fill="none" stroke="#25d9e6" stroke-width="1.2"/>
<polyline points="1712.3,834 1730.9,831.6 1733.6,843.4 1738.1,838.9 1749,843" fill="none" stroke="#25d9e6" stroke-width="1.2"/>
<polyline points="1730.9,831.6 1747.2,832.5 1749.9,837.1 1765.8,838.9" fill="none" stroke="#25d9e6" stroke-width="1.2"/>
<polyline points="1733.6,833.5 1735,838.9 1736.5,833.5 1737.9,838.9 1739.4,833.5 1740.8,838.9 1742.3,833.5 1743.7,838.3 1745.2,833.5 1746.3,837.1" fill="none" stroke="#25d9e6" stroke-width="1"/>
<polyline points="1738.1,838.9 1753.5,836.2" fill="none" stroke="#25d9e6" stroke-width="1"/>
<polyline points="1712.3,933.5 1658.6,944.7 1658.6,959.1 1693.8,978.1 1693.8,960.9 1658.6,944.7" fill="none" stroke="#25d9e6" stroke-width="1.2"/>
<polyline points="1693.8,960.9 1749,946.5" fill="none" stroke="#25d9e6" stroke-width="1.2"/>
<polyline points="1693.8,978.1 1749,963.7" fill="none" stroke="#25d9e6" stroke-width="1.2"/>
<polyline points="1765.8,920.3 1777.9,917.5 1788.8,923 1803.2,924.8 1816.8,930.2 1816.8,946.5 1765.8,959.1" fill="none" stroke="#25d9e6" stroke-width="1.2"/>
<polyline points="1765.8,944.7 1816.8,931.1" fill="none" stroke="#25d9e6" stroke-width="1.2"/>
<polyline points="1668.5,950.1 1668.5,968.2" fill="none" stroke="#25d9e6" stroke-width="1"/>
<polyline points="1681.2,955.5 1681.2,973.6" fill="none" stroke="#25d9e6" stroke-width="1"/>
<polyline points="1659.1,946.8 1668.1,950.8" fill="none" stroke="#25d9e6" stroke-width="0.8"/>
<polyline points="1669.2,952.3 1680.8,956.2" fill="none" stroke="#25d9e6" stroke-width="0.8"/>
<polyline points="1681.9,958 1693.5,962.7" fill="none" stroke="#25d9e6" stroke-width="0.8"/>
<polyline points="1659.1,948.6 1668.1,952.6" fill="none" stroke="#25d9e6" stroke-width="0.8"/>
<polyline points="1669.2,954.1 1680.8,958" fill="none" stroke="#25d9e6" stroke-width="0.8"/>
<polyline points="1681.9,959.9 1693.5,964.6" fill="none" stroke="#25d9e6" stroke-width="0.8"/>
<polyline points="1659.1,950.5 1668.1,954.4" fill="none" stroke="#25d9e6" stroke-width="0.8"/>
<polyline points="1669.2,955.9 1680.8,959.9" fill="none" stroke="#25d9e6" stroke-width="0.8"/>
<polyline points="1681.9,961.7 1693.5,966.4" fill="none" stroke="#25d9e6" stroke-width="0.8"/>
<polyline points="1659.1,952.3 1668.1,956.2" fill="none" stroke="#25d9e6" stroke-width="0.8"/>
<polyline points="1669.2,957.7 1680.8,961.7" fill="none" stroke="#25d9e6" stroke-width="0.8"/>
<polyline points="1681.9,963.5 1693.5,968.2" fill="none" stroke="#25d9e6" stroke-width="0.8"/>
<polyline points="1659.1,954.1 1668.1,958" fill="none" stroke="#25d9e6" stroke-width="0.8"/>
<polyline points="1669.2,959.5 1680.8,963.5" fill="none" stroke="#25d9e6" stroke-width="0.8"/>
<polyline points="1681.9,965.3 1693.5,970" fill="none" stroke="#25d9e6" stroke-width="0.8"/>
<polyline points="1659.1,955.9 1668.1,959.9" fill="none" stroke="#25d9e6" stroke-width="0.8"/>
<polyline points="1669.2,961.3 1680.8,965.3" fill="none" stroke="#25d9e6" stroke-width="0.8"/>
<polyline points="1681.9,967.1 1693.5,971.8" fill="none" stroke="#25d9e6" stroke-width="0.8"/>
<polyline points="1659.1,957.7 1668.1,961.7" fill="none" stroke="#25d9e6" stroke-width="0.8"/>
<polyline points="1669.2,963.1 1680.8,967.1" fill="none" stroke="#25d9e6" stroke-width="0.8"/>
<polyline points="1681.9,968.9 1693.5,973.6" fill="none" stroke="#25d9e6" stroke-width="0.8"/>
<polyline points="1659.1,959.5 1668.1,963.5" fill="none" stroke="#25d9e6" stroke-width="0.8"/>
<polyline points="1669.2,964.9 1680.8,968.9" fill="none" stroke="#25d9e6" stroke-width="0.8"/>
<polyline points="1681.9,970.7 1693.5,975.4" fill="none" stroke="#25d9e6" stroke-width="0.8"/>
<polyline points="1630.5,963.7 1658.6,957.3" fill="none" stroke="#25d9e6" stroke-width="1.2"/>
<polyline points="1630.5,963.7 1675.7,984.4 1834,942.9 1816.8,937.4" fill="none" stroke="#25d9e6" stroke-width="1.2"/>
<polyline points="1630.5,963.7 1635,973.6 1635.9,995.3 1645,1006.1 1654,1011.6 1668.5,1018.8 1686.6,1026 1701,1033.3 1711.9,1034.7 1722.7,1031.5 1739,1026 1749.9,1017 1755.3,1015.2 1760.7,1017.9 1777,1009.8 1793.3,1004.3 1811.4,995.3 1815,982.6 1825.8,975.4 1834,963.7 1834,942.9" fill="none" stroke="#25d9e6" stroke-width="1.2"/>
<polyline points="1675.7,984.4 1672.1,997.1 1683,1013.4 1693.8,1027.8 1711.9,1034.7" fill="none" stroke="#25d9e6" stroke-width="1.2"/>
<polygon points="1648.1,981.9 1650.6,982.1 1650.1,979.4" fill="none" stroke="#dcdce8" stroke-width="0.9"/>
<polygon points="1638.1,995.5 1640.7,995.7 1640.1,992.9" fill="none" stroke="#dcdce8" stroke-width="0.9"/>
<polygon points="1670.7,997.8 1673.2,998 1672.7,995.3" fill="none" stroke="#dcdce8" stroke-width="0.9"/>
<polygon points="1676.1,1000.9 1678.6,1001.1 1678.1,998.4" fill="none" stroke="#dcdce8" stroke-width="0.9"/>
<polygon points="1677.9,1015.4 1680.4,1015.6 1679.9,1012.8" fill="none" stroke="#dcdce8" stroke-width="0.9"/>
<polygon points="1703.2,1000.9 1705.8,1001.1 1705.2,998.4" fill="none" stroke="#dcdce8" stroke-width="0.9"/>
<polygon points="1715,985.5 1717.5,985.7 1717,983" fill="none" stroke="#dcdce8" stroke-width="0.9"/>
<polygon points="1703.2,1019 1705.8,1019.2 1705.2,1016.5" fill="none" stroke="#dcdce8" stroke-width="0.9"/>
<polygon points="1726.7,1021.7 1729.3,1021.9 1728.7,1019.2" fill="none" stroke="#dcdce8" stroke-width="0.9"/>
<polygon points="1736.7,1004 1739.2,1004.2 1738.7,1001.4" fill="none" stroke="#dcdce8" stroke-width="0.9"/>
<polygon points="1741.6,1004.5 1744.1,1004.7 1743.5,1002" fill="none" stroke="#dcdce8" stroke-width="0.9"/>
<polygon points="1752.9,971.1 1755.5,971.2 1754.9,968.5" fill="none" stroke="#dcdce8" stroke-width="0.9"/>
<polygon points="1762.9,972 1765.4,972.2 1764.9,969.4" fill="none" stroke="#dcdce8" stroke-width="0.9"/>
<polygon points="1769.2,977.4 1771.8,977.6 1771.2,974.9" fill="none" stroke="#dcdce8" stroke-width="0.9"/>
<polygon points="1780.1,989.5 1782.6,989.7 1782.1,987" fill="none" stroke="#dcdce8" stroke-width="0.9"/>
<polygon points="1769.2,1006.7 1771.8,1006.9 1771.2,1004.2" fill="none" stroke="#dcdce8" stroke-width="0.9"/>
<polygon points="1795.4,975 1798,975.2 1797.4,972.5" fill="none" stroke="#dcdce8" stroke-width="0.9"/>
<polygon points="1791.8,955.7 1794.4,955.9 1793.8,953.2" fill="none" stroke="#dcdce8" stroke-width="0.9"/>
<polygon points="1818,974.7 1820.6,974.9 1820,972.2" fill="none" stroke="#dcdce8" stroke-width="0.9"/>
<polygon points="1710.5,1034.4 1713,1034.5 1712.4,1031.8" fill="none" stroke="#dcdce8" stroke-width="0.9"/>
<path d="M1749.5 964.9 V888.1 Q1749.5 884.1 1753.5 884.1 H1760.3 Q1764.3 884.1 1764.3 888.1 V964.9" fill="none" stroke="#e8f4f6" stroke-width="1.5"/>
<circle cx="1754.9" cy="891.9" r="1.8" fill="none" stroke="#25d9e6" stroke-width="1.2"/>
<circle cx="1760.4" cy="899.1" r="1.8" fill="none" stroke="#25d9e6" stroke-width="1.2"/>
<circle cx="1753.5" cy="907.6" r="1.8" fill="none" stroke="#25d9e6" stroke-width="1.2"/>
<circle cx="1762.2" cy="915.7" r="1.8" fill="none" stroke="#25d9e6" stroke-width="1.2"/>
<polyline points="1753.5,933.8 1753.5,964.6" fill="none" stroke="#25d9e6" stroke-width="1.2"/>
<polyline points="1761.1,932.9 1761.1,963.7" fill="none" stroke="#25d9e6" stroke-width="1.2"/>
<polyline points="1756.2,937.4 1756.2,962.7" fill="none" stroke="#25d9e6" stroke-width="1.5"/>
<ellipse cx="1744.4" cy="960.9" rx="5" ry="2.5" fill="none" stroke="#25d9e6" stroke-width="1"/>
<text x="1701" y="1066.7" font-size="12.2" fill="#2fe3ee" stroke="#2fe3ee" stroke-width="0.28" textLength="85" lengthAdjust="spacingAndGlyphs">SIMPSON SSP</text>
<line x1="1700" y1="1069.3" x2="1787" y2="1069.3" stroke="#2fe3ee" stroke-width="1.1"/>
<rect x="1448" y="1129" width="166.5" height="284.9" fill="none" stroke="#25d9e6" stroke-width="1.2"/>
<line x1="1481.6" y1="1129" x2="1481.6" y2="1310.4" stroke="#25d9e6" stroke-width="1.4"/>
<line x1="1507.5" y1="1129" x2="1507.5" y2="1236.6" stroke="#25d9e6" stroke-width="1.4"/>
<rect x="1481.6" y="1226.2" width="25.9" height="10.4" fill="none" stroke="#25d9e6" stroke-width="1.1"/>
<polyline points="1481.6,1226.2 1507.5,1236.6" fill="none" stroke="#dcdce8" stroke-width="0.9"/>
<polyline points="1507.5,1226.2 1481.6,1236.6" fill="none" stroke="#dcdce8" stroke-width="0.9"/>
<line x1="1481.6" y1="1236.6" x2="1614.5" y2="1236.6" stroke="#25d9e6" stroke-width="1.4"/>
<line x1="1481.6" y1="1243" x2="1614.5" y2="1243" stroke="#25d9e6" stroke-width="1.4"/>
<line x1="1492.3" y1="1243" x2="1492.3" y2="1310.4" stroke="#25d9e6" stroke-width="1.4"/>
<polyline points="1481.6,1243 1492.3,1310.4" fill="none" stroke="#dcdce8" stroke-width="0.9"/>
<polyline points="1492.3,1243 1481.6,1310.4" fill="none" stroke="#dcdce8" stroke-width="0.9"/>
<line x1="1481.6" y1="1310.4" x2="1614.5" y2="1310.4" stroke="#25d9e6" stroke-width="1.4"/>
<rect x="1481.6" y="1310.4" width="40.2" height="10.1" fill="none" stroke="#25d9e6" stroke-width="1.1"/>
<polyline points="1481.6,1310.4 1521.8,1320.5" fill="none" stroke="#dcdce8" stroke-width="0.9"/>
<polyline points="1521.8,1310.4 1481.6,1320.5" fill="none" stroke="#dcdce8" stroke-width="0.9"/>
<rect x="1481.6" y="1320.5" width="9.4" height="56.3" fill="url(#xhat)" stroke="#25d9e6" stroke-width="1"/>
<rect x="1527.5" y="1320.5" width="9.5" height="56.3" fill="url(#xhat)" stroke="#25d9e6" stroke-width="1"/>
<line x1="1481.6" y1="1376.8" x2="1537" y2="1376.8" stroke="#25d9e6" stroke-width="1.4"/>
<circle cx="1497" cy="1340" r="0.8" fill="none" stroke="#e8c8c8" stroke-width="0.8"/>
<circle cx="1510" cy="1332" r="0.8" fill="none" stroke="#e8c8c8" stroke-width="0.8"/>
<circle cx="1520" cy="1330" r="0.8" fill="none" stroke="#e8c8c8" stroke-width="0.8"/>
<circle cx="1500" cy="1360" r="0.8" fill="none" stroke="#e8c8c8" stroke-width="0.8"/>
<circle cx="1512" cy="1352" r="0.8" fill="none" stroke="#e8c8c8" stroke-width="0.8"/>
<circle cx="1517" cy="1350" r="0.8" fill="none" stroke="#e8c8c8" stroke-width="0.8"/>
<circle cx="1496" cy="1372" r="0.8" fill="none" stroke="#e8c8c8" stroke-width="0.8"/>
<circle cx="1508" cy="1370" r="0.8" fill="none" stroke="#e8c8c8" stroke-width="0.8"/>
<circle cx="1520" cy="1366" r="0.8" fill="none" stroke="#e8c8c8" stroke-width="0.8"/>
<circle cx="1503" cy="1326" r="0.8" fill="none" stroke="#e8c8c8" stroke-width="0.8"/>
<path d="M1500.5 1303 V1367 Q1500.5 1369 1503 1369 H1513" fill="none" stroke="#dcdce8" stroke-width="3.2"/>
<rect x="1497.5" y="1304" width="6" height="5" fill="none" stroke="#25d9e6" stroke-width="0.9"/>
<line x1="1480.6" y1="1148" x2="1480.6" y2="1310.4" stroke="#f0f4f8" stroke-width="1.4"/>
<rect x="1889.5" y="1097.4" width="186.1" height="297.5" fill="none" stroke="#25d9e6" stroke-width="1.2"/>
<line x1="1974.9" y1="1097.4" x2="1974.9" y2="1236.6" stroke="#25d9e6" stroke-width="1.4"/>
<line x1="1986.3" y1="1097.4" x2="1986.3" y2="1236.6" stroke="#25d9e6" stroke-width="1.4"/>
<line x1="1889.5" y1="1236.6" x2="2075.6" y2="1236.6" stroke="#25d9e6" stroke-width="1.4"/>
<line x1="1889.5" y1="1243" x2="2075.6" y2="1243" stroke="#25d9e6" stroke-width="1.4"/>
<line x1="1889.5" y1="1310.4" x2="2075.6" y2="1310.4" stroke="#25d9e6" stroke-width="1.4"/>
<line x1="1889.5" y1="1320.5" x2="2075.6" y2="1320.5" stroke="#25d9e6" stroke-width="1.4"/>
<line x1="1889.5" y1="1376.8" x2="2075.6" y2="1376.8" stroke="#25d9e6" stroke-width="1.4"/>
<line x1="1889.5" y1="1380" x2="2075.6" y2="1380" stroke="#25d9e6" stroke-width="1.4"/>
<line x1="1925.9" y1="1320.5" x2="1925.9" y2="1376.8" stroke="#25d9e6" stroke-width="1.4"/>
<line x1="1930" y1="1320.5" x2="1930" y2="1376.8" stroke="#25d9e6" stroke-width="1.4"/>
<line x1="2042.3" y1="1320.5" x2="2042.3" y2="1376.8" stroke="#25d9e6" stroke-width="1.4"/>
<line x1="2046.5" y1="1320.5" x2="2046.5" y2="1376.8" stroke="#25d9e6" stroke-width="1.4"/>
<line x1="1980.6" y1="1380" x2="1980.6" y2="1394.9" stroke="#25d9e6" stroke-width="1.4"/>
<line x1="1984.4" y1="1380" x2="1984.4" y2="1394.9" stroke="#25d9e6" stroke-width="1.4"/>
<rect x="1976.5" y="1147.4" width="8.9" height="161.1" fill="#232839" stroke="#25d9e6" stroke-width="1.2" rx="4.4"/>
<circle cx="1979" cy="1156" r="0.6" fill="none" stroke="#25d9e6" stroke-width="0.8"/>
<circle cx="1981" cy="1163.6" r="0.6" fill="none" stroke="#25d9e6" stroke-width="0.8"/>
<circle cx="1983" cy="1171.2" r="0.6" fill="none" stroke="#25d9e6" stroke-width="0.8"/>
<circle cx="1980" cy="1178.8" r="0.6" fill="none" stroke="#25d9e6" stroke-width="0.8"/>
<circle cx="1982" cy="1186.4" r="0.6" fill="none" stroke="#25d9e6" stroke-width="0.8"/>
<circle cx="1979" cy="1194" r="0.6" fill="none" stroke="#25d9e6" stroke-width="0.8"/>
<circle cx="1981" cy="1201.6" r="0.6" fill="none" stroke="#25d9e6" stroke-width="0.8"/>
<circle cx="1983" cy="1209.2" r="0.6" fill="none" stroke="#25d9e6" stroke-width="0.8"/>
<circle cx="1980" cy="1216.8" r="0.6" fill="none" stroke="#25d9e6" stroke-width="0.8"/>
<circle cx="1982" cy="1224.4" r="0.6" fill="none" stroke="#25d9e6" stroke-width="0.8"/>
<circle cx="1979" cy="1232" r="0.6" fill="none" stroke="#25d9e6" stroke-width="0.8"/>
<circle cx="1981" cy="1239.6" r="0.6" fill="none" stroke="#25d9e6" stroke-width="0.8"/>
<circle cx="1983" cy="1247.2" r="0.6" fill="none" stroke="#25d9e6" stroke-width="0.8"/>
<circle cx="1980" cy="1254.8" r="0.6" fill="none" stroke="#25d9e6" stroke-width="0.8"/>
<circle cx="1982" cy="1262.4" r="0.6" fill="none" stroke="#25d9e6" stroke-width="0.8"/>
<circle cx="1979" cy="1270" r="0.6" fill="none" stroke="#25d9e6" stroke-width="0.8"/>
<circle cx="1981" cy="1277.6" r="0.6" fill="none" stroke="#25d9e6" stroke-width="0.8"/>
<circle cx="1983" cy="1285.2" r="0.6" fill="none" stroke="#25d9e6" stroke-width="0.8"/>
<circle cx="1980" cy="1292.8" r="0.6" fill="none" stroke="#25d9e6" stroke-width="0.8"/>
<circle cx="1982" cy="1300.4" r="0.6" fill="none" stroke="#25d9e6" stroke-width="0.8"/>
<rect x="1951.5" y="1271.5" width="10.2" height="49" fill="#232839" stroke="#25d9e6" stroke-width="1.2" rx="3"/>
<circle cx="1954.5" cy="1278" r="0.6" fill="none" stroke="#25d9e6" stroke-width="0.8"/>
<circle cx="1955.5" cy="1284" r="0.6" fill="none" stroke="#25d9e6" stroke-width="0.8"/>
<circle cx="1956.5" cy="1290" r="0.6" fill="none" stroke="#25d9e6" stroke-width="0.8"/>
<circle cx="1957.5" cy="1296" r="0.6" fill="none" stroke="#25d9e6" stroke-width="0.8"/>
<circle cx="1958.5" cy="1302" r="0.6" fill="none" stroke="#25d9e6" stroke-width="0.8"/>
<rect x="1953" y="1303" width="7.2" height="17.5" fill="#25d9e6"/>
<rect x="1955.5" y="1305" width="2.2" height="13" fill="#232839"/>
<rect x="1999.6" y="1271.5" width="10.2" height="49" fill="#232839" stroke="#25d9e6" stroke-width="1.2" rx="3"/>
<circle cx="2002.6" cy="1278" r="0.6" fill="none" stroke="#25d9e6" stroke-width="0.8"/>
<circle cx="2003.6" cy="1284" r="0.6" fill="none" stroke="#25d9e6" stroke-width="0.8"/>
<circle cx="2004.6" cy="1290" r="0.6" fill="none" stroke="#25d9e6" stroke-width="0.8"/>
<circle cx="2005.6" cy="1296" r="0.6" fill="none" stroke="#25d9e6" stroke-width="0.8"/>
<circle cx="2006.6" cy="1302" r="0.6" fill="none" stroke="#25d9e6" stroke-width="0.8"/>
<rect x="2001.1" y="1303" width="7.2" height="17.5" fill="#25d9e6"/>
<rect x="2003.6" y="1305" width="2.2" height="13" fill="#232839"/>
<path d="M1969.9 1304.7 V1366 Q1969.9 1368 1972 1368 H1982" fill="none" stroke="#dcdce8" stroke-width="3.4"/>
<rect x="1966.5" y="1303" width="6.8" height="5" fill="none" stroke="#25d9e6" stroke-width="0.9"/>
<polyline points="1635.7,1098.4 1616.7,1098.4 1508.2,1146.5" fill="none" stroke="#25d9e6" stroke-width="1.1"/>
<polygon points="1508.2,1146.5 1514.8,1141.6 1516.2,1144.9" fill="#25d9e6" stroke="#25d9e6" stroke-width="0.6"/>
<polyline points="1745.8,1098.4 1855.6,1098.4 1974.3,1119.6" fill="none" stroke="#25d9e6" stroke-width="1.1"/>
<polygon points="1974.3,1119.6 1966.1,1120 1966.7,1116.4" fill="#25d9e6" stroke="#25d9e6" stroke-width="0.6"/>
<polyline points="1632.5,1160.7 1482.2,1160.7" fill="none" stroke="#25d9e6" stroke-width="1.1"/>
<polygon points="1482.2,1160.7 1490.2,1158.9 1490.2,1162.5" fill="#25d9e6" stroke="#25d9e6" stroke-width="0.6"/>
<polyline points="1792.3,1160.7 1974.9,1160.7" fill="none" stroke="#25d9e6" stroke-width="1.1"/>
<polygon points="1974.9,1160.7 1966.9,1162.5 1966.9,1158.9" fill="#25d9e6" stroke="#25d9e6" stroke-width="0.6"/>
<polyline points="1634,1257.2 1534.4,1257.2 1483.2,1279.4" fill="none" stroke="#25d9e6" stroke-width="1.1"/>
<polygon points="1483.2,1279.4 1489.8,1274.6 1491.3,1277.9" fill="#25d9e6" stroke="#25d9e6" stroke-width="0.6"/>
<polyline points="1789,1257.2 1885.7,1257.2 1950.6,1279.4" fill="none" stroke="#25d9e6" stroke-width="1.1"/>
<polygon points="1950.6,1279.4 1942.4,1278.5 1943.6,1275.1" fill="#25d9e6" stroke="#25d9e6" stroke-width="0.6"/>
<polyline points="1632.5,1315.8 1523.4,1315.8" fill="none" stroke="#25d9e6" stroke-width="1.1"/>
<polygon points="1523.4,1315.8 1531.4,1314 1531.4,1317.6" fill="#25d9e6" stroke="#25d9e6" stroke-width="0.6"/>
<polyline points="1784.4,1315.8 1904.7,1315.8" fill="none" stroke="#25d9e6" stroke-width="1.1"/>
<polygon points="1904.7,1315.8 1896.7,1317.6 1896.7,1314" fill="#25d9e6" stroke="#25d9e6" stroke-width="0.6"/>
<polyline points="1637.3,1406 1612,1406 1506,1330" fill="none" stroke="#25d9e6" stroke-width="1.1"/>
<polygon points="1506,1330 1513.6,1333.2 1511.5,1336.1" fill="#25d9e6" stroke="#25d9e6" stroke-width="0.6"/>
<polyline points="1829.4,1406 1869.9,1406 1968,1342" fill="none" stroke="#25d9e6" stroke-width="1.1"/>
<polygon points="1968,1342 1962.3,1347.9 1960.3,1344.9" fill="#25d9e6" stroke="#25d9e6" stroke-width="0.6"/>
<text x="1643.6" y="1102.2" font-size="13" fill="#2fe3ee" stroke="#2fe3ee" stroke-width="0.28" textLength="87.7" lengthAdjust="spacingAndGlyphs">HD LOCATION</text>
<text x="1643.6" y="1117.3" font-size="13" fill="#2fe3ee" stroke="#2fe3ee" stroke-width="0.28" textLength="85.4" lengthAdjust="spacingAndGlyphs">(1) STUD (MIN)</text>
<text x="1637.3" y="1164.8" font-size="13" fill="#2fe3ee" stroke="#2fe3ee" stroke-width="0.28" textLength="137" lengthAdjust="spacingAndGlyphs">SIMPSON CS16 STRAP</text>
<text x="1637.3" y="1180.6" font-size="13" fill="#2fe3ee" stroke="#2fe3ee" stroke-width="0.28" textLength="188.3" lengthAdjust="spacingAndGlyphs">(EXTEND TO SILL PLATE AND</text>
<text x="1637.3" y="1195.5" font-size="13" fill="#2fe3ee" stroke="#2fe3ee" stroke-width="0.28" textLength="135.4" lengthAdjust="spacingAndGlyphs">EXTEND 12" ON STUD)</text>
<text x="1638.9" y="1261.3" font-size="13" fill="#2fe3ee" stroke="#2fe3ee" stroke-width="0.28" textLength="141.7" lengthAdjust="spacingAndGlyphs">SIMPSON SSP IN EACH</text>
<text x="1638.9" y="1276.8" font-size="13" fill="#2fe3ee" stroke="#2fe3ee" stroke-width="0.28" textLength="98.1" lengthAdjust="spacingAndGlyphs">SIDE OF STRAP</text>
<text x="1638.9" y="1318" font-size="13" fill="#2fe3ee" stroke="#2fe3ee" stroke-width="0.28" textLength="127.5" lengthAdjust="spacingAndGlyphs">2x6 TRT SILL PLATE</text>
<text x="1642.7" y="1374.3" font-size="13" fill="#2fe3ee" stroke="#2fe3ee" stroke-width="0.28" textLength="197.7" lengthAdjust="spacingAndGlyphs">LOCATE ½" DIAMETER ANCHOR</text>
<text x="1642.7" y="1390.1" font-size="13" fill="#2fe3ee" stroke="#2fe3ee" stroke-width="0.28" textLength="190.8" lengthAdjust="spacingAndGlyphs">BOLT (OR ½" THREADED ROD</text>
<text x="1642.7" y="1404.4" font-size="13" fill="#2fe3ee" stroke="#2fe3ee" stroke-width="0.28" textLength="170.2" lengthAdjust="spacingAndGlyphs">EMBEDDED 5" INTO SOLID</text>
<text x="1642.7" y="1419.6" font-size="13" fill="#2fe3ee" stroke="#2fe3ee" stroke-width="0.28" textLength="209.1" lengthAdjust="spacingAndGlyphs">MASONRY WITH SIMPSON SET-XP</text>
<text x="1642.7" y="1435" font-size="13" fill="#2fe3ee" stroke="#2fe3ee" stroke-width="0.28" textLength="211.3" lengthAdjust="spacingAndGlyphs">EPOXY (OR EQUAL) WITHIN 12" OF</text>
<text x="1642.7" y="1450.3" font-size="13" fill="#2fe3ee" stroke="#2fe3ee" stroke-width="0.28" textLength="182.9" lengthAdjust="spacingAndGlyphs">CENTERLINE OF CS16 STRAP.</text>
<text x="1470.2" y="1439.2" font-size="12.6" fill="#2fe3ee" stroke="#2fe3ee" stroke-width="0.28" textLength="53.2" lengthAdjust="spacingAndGlyphs">SECTION</text>
<line x1="1469.2" y1="1441.8" x2="1524.4" y2="1441.8" stroke="#2fe3ee" stroke-width="1.1"/>
<text x="1945.8" y="1481.9" font-size="12.6" fill="#2fe3ee" stroke="#2fe3ee" stroke-width="0.28" textLength="70.2" lengthAdjust="spacingAndGlyphs">ELEVATION</text>
<line x1="1944.8" y1="1484.5" x2="2017" y2="1484.5" stroke="#2fe3ee" stroke-width="1.1"/>
<text x="1980.6" y="1428" font-size="12.6" fill="#2fe3ee" stroke="#2fe3ee" stroke-width="0.28" text-anchor="middle" textLength="14" lengthAdjust="spacingAndGlyphs">12"</text>
<text x="1959" y="1444" font-size="12.6" fill="#2fe3ee" stroke="#2fe3ee" stroke-width="0.28" textLength="42" lengthAdjust="spacingAndGlyphs">C/L OF</text>
<text x="1960" y="1459" font-size="12.6" fill="#2fe3ee" stroke="#2fe3ee" stroke-width="0.28" textLength="41" lengthAdjust="spacingAndGlyphs">STRAP</text>
<line x1="1937.3" y1="1406" x2="1937.3" y2="1437.6" stroke="#25d9e6" stroke-width="1.1"/>
<line x1="2025" y1="1403" x2="2025" y2="1437.6" stroke="#25d9e6" stroke-width="1.1"/>
<line x1="1933" y1="1433.5" x2="1955" y2="1433.5" stroke="#25d9e6" stroke-width="1.1"/>
<line x1="2006" y1="1433.5" x2="2029" y2="1433.5" stroke="#25d9e6" stroke-width="1.1"/>
<line x1="1932.5" y1="1439" x2="1942" y2="1428" stroke="#25d9e6" stroke-width="2"/>
<line x1="2020" y1="1439" x2="2029.5" y2="1428" stroke="#25d9e6" stroke-width="2"/>
<circle cx="1543" cy="1504.7" r="21.5" fill="none" stroke="#25d9e6" stroke-width="1.2"/>
<text x="1543" y="1513" font-size="25" fill="#2fe3ee" text-anchor="middle" textLength="21" lengthAdjust="spacingAndGlyphs">B</text>
<text x="1574" y="1500.3" font-size="18.9" fill="#2fe3ee" stroke="#2fe3ee" stroke-width="0.28" textLength="237.3" lengthAdjust="spacingAndGlyphs">'HD' HOLD-DOWN DETAIL</text>
<line x1="1573" y1="1503.5" x2="1812.3" y2="1503.5" stroke="#2fe3ee" stroke-width="1.1"/>
<text x="1574" y="1521.5" font-size="13.3" fill="#2fe3ee" stroke="#2fe3ee" stroke-width="0.28" textLength="154.4" lengthAdjust="spacingAndGlyphs">(OVER WOOD FLOOR)</text>
<text x="1574" y="1550" font-size="13" fill="#2fe3ee" stroke="#2fe3ee" stroke-width="0.28" textLength="402.8" lengthAdjust="spacingAndGlyphs">NOTE: ALTERNATE HD HOLD-DOWN DEVICES OR SYSTEMS MAY</text>
<text x="1574" y="1565.1" font-size="13" fill="#2fe3ee" stroke="#2fe3ee" stroke-width="0.28" textLength="401" lengthAdjust="spacingAndGlyphs">BE USED TO MEET THE CODE REQUIRED 800 LB CAPACITY IN</text>
<text x="1574" y="1580" font-size="13" fill="#2fe3ee" stroke="#2fe3ee" stroke-width="0.28" textLength="180.4" lengthAdjust="spacingAndGlyphs">LIEU OF THE ABOVE DETAIL.</text>
<polyline points="296.5,1404 296.5,1218.4 366.8,1218.4 366.8,1404" fill="none" stroke="#25d9e6" stroke-width="1.2"/>
<line x1="308.2" y1="1218.4" x2="308.2" y2="1404" stroke="#25d9e6" stroke-width="1.2"/>
<line x1="320" y1="1310.8" x2="320" y2="1404" stroke="#25d9e6" stroke-width="1.2"/>
<line x1="331.3" y1="1310.8" x2="331.3" y2="1404" stroke="#25d9e6" stroke-width="1.2"/>
<line x1="343" y1="1310.8" x2="343" y2="1404" stroke="#25d9e6" stroke-width="1.2"/>
<line x1="355.7" y1="1218.4" x2="355.7" y2="1404" stroke="#25d9e6" stroke-width="1.2"/>
<line x1="308.2" y1="1310.8" x2="355.7" y2="1310.8" stroke="#25d9e6" stroke-width="1.2"/>
<line x1="323.5" y1="1218.4" x2="323.5" y2="1310.8" stroke="#25d9e6" stroke-width="1.1"/>
<line x1="339.5" y1="1218.4" x2="339.5" y2="1310.8" stroke="#25d9e6" stroke-width="1.1"/>
<polyline points="308.2,1222 322.5,1309" fill="none" stroke="#dcdce8" stroke-width="0.9"/>
<polyline points="323.5,1222 309.2,1309" fill="none" stroke="#dcdce8" stroke-width="0.9"/>
<polyline points="323.5,1222 338.5,1309" fill="none" stroke="#dcdce8" stroke-width="0.9"/>
<polyline points="339.5,1222 324.5,1309" fill="none" stroke="#dcdce8" stroke-width="0.9"/>
<polyline points="339.5,1222 354.7,1309" fill="none" stroke="#dcdce8" stroke-width="0.9"/>
<polyline points="355.7,1222 340.5,1309" fill="none" stroke="#dcdce8" stroke-width="0.9"/>
<line x1="357.3" y1="1247.5" x2="419" y2="1247.5" stroke="#25d9e6" stroke-width="1.1"/>
<polygon points="357.3,1247.5 365.3,1245.7 365.3,1249.3" fill="#25d9e6" stroke="#25d9e6" stroke-width="0.6"/>
<polyline points="419,1282.9 396.8,1282.9 357.3,1310.8" fill="none" stroke="#25d9e6" stroke-width="1.1"/>
<polygon points="357.3,1310.8 362.8,1304.7 364.9,1307.7" fill="#25d9e6" stroke="#25d9e6" stroke-width="0.6"/>
<line x1="368.4" y1="1351.3" x2="419" y2="1351.3" stroke="#25d9e6" stroke-width="1.1"/>
<polygon points="368.4,1351.3 376.4,1349.5 376.4,1353.1" fill="#25d9e6" stroke="#25d9e6" stroke-width="0.6"/>
<text x="425.3" y="1252.2" font-size="12.6" fill="#2fe3ee" stroke="#2fe3ee" stroke-width="0.28" textLength="160.8" lengthAdjust="spacingAndGlyphs">LVL MAIN GARAGE BEAM</text>
<text x="425.3" y="1264.9" font-size="12.6" fill="#2fe3ee" stroke="#2fe3ee" stroke-width="0.28" textLength="68.1" lengthAdjust="spacingAndGlyphs">AS SPEC'D</text>
<text x="425.3" y="1287.7" font-size="12.6" fill="#2fe3ee" stroke="#2fe3ee" stroke-width="0.28" textLength="177.2" lengthAdjust="spacingAndGlyphs">BEAM SHALL BEAR ON END</text>
<text x="425.3" y="1300.6" font-size="12.6" fill="#2fe3ee" stroke="#2fe3ee" stroke-width="0.28" textLength="60.1" lengthAdjust="spacingAndGlyphs">OF STUDS</text>
<text x="425.3" y="1356" font-size="12.6" fill="#2fe3ee" stroke="#2fe3ee" stroke-width="0.28" textLength="168.7" lengthAdjust="spacingAndGlyphs">NUMBER OF STUDS SPEC'D</text>
<text x="425.3" y="1371.8" font-size="12.6" fill="#2fe3ee" stroke="#2fe3ee" stroke-width="0.28" textLength="175.7" lengthAdjust="spacingAndGlyphs">(SEE PLANS) INCLUDES ALL</text>
<text x="425.3" y="1387.7" font-size="12.6" fill="#2fe3ee" stroke="#2fe3ee" stroke-width="0.28" textLength="110.7" lengthAdjust="spacingAndGlyphs">STUDS IN COLUMN</text>
<circle cx="200.6" cy="1464.2" r="18" fill="none" stroke="#25d9e6" stroke-width="1.3"/>
<text x="200.6" y="1471.5" font-size="21" fill="none" stroke="#2fe3ee" stroke-width="0.9" text-anchor="middle" textLength="17" lengthAdjust="spacingAndGlyphs">C</text>
<text x="227.5" y="1470.3" font-size="31.8" fill="none" stroke="#2fe3ee" stroke-width="0.9" textLength="455.7" lengthAdjust="spacingAndGlyphs">TYP. GARAGE BEAM BEARING</text>
<line x1="225" y1="1475" x2="684.8" y2="1475" stroke="#25d9e6" stroke-width="1.3"/>
<text x="662.7" y="1487.7" font-size="11.2" fill="#2fe3ee" stroke="#2fe3ee" stroke-width="0.28" textLength="22.1" lengthAdjust="spacingAndGlyphs">NTS</text>
<circle cx="547.8" cy="1568.7" r="34.2" fill="none" stroke="#f01cf0" stroke-width="1.3"/>
<text x="547.8" y="1581.5" font-size="35" fill="#f01cf0" text-anchor="middle">1</text>
<text x="594" y="1559.8" font-size="34.2" fill="#f01cf0" textLength="565.7" lengthAdjust="spacingAndGlyphs">SECOND FLOOR FRAMING PLAN</text>
<line x1="582" y1="1568.7" x2="1161.3" y2="1568.7" stroke="#f01cf0" stroke-width="1.4"/>
<text x="594" y="1587.3" font-size="16.2" fill="#2fe3ee" stroke="#2fe3ee" stroke-width="0.28" textLength="48" lengthAdjust="spacingAndGlyphs" font-weight="bold">SCALE:</text>
<text x="655.7" y="1587.3" font-size="16.2" fill="#2fe3ee" stroke="#2fe3ee" stroke-width="0.28" textLength="67" lengthAdjust="spacingAndGlyphs" font-weight="bold">1/4" = 1'-0"</text>
</svg>
</body></html>
